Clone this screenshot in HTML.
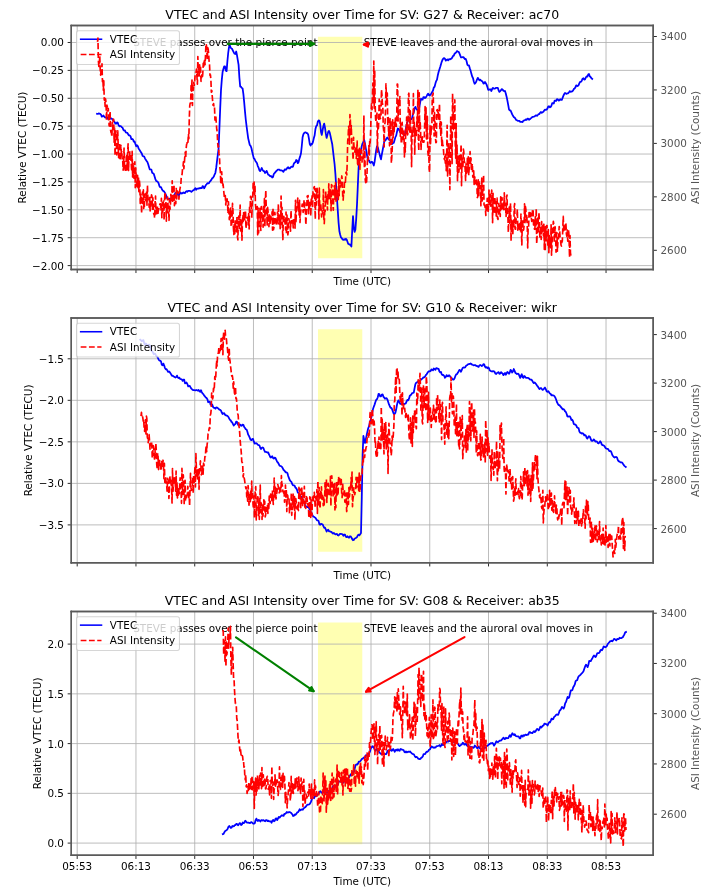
<!DOCTYPE html>
<html><head><meta charset="utf-8"><title>VTEC and ASI Intensity over Time</title>
<style>html,body{margin:0;padding:0;background:#fff;overflow:hidden;}svg{display:block;}</style>
</head><body>
<svg width="714" height="890" viewBox="0 0 685.44 854.4" version="1.1"> <defs> <style type="text/css">*{stroke-linejoin: round; stroke-linecap: butt}</style> </defs> <g id="figure_1"> <g id="patch_1"> <path d="M 0 854.4 L 685.44 854.4 L 685.44 0 L 0 0 z " style="fill: #ffffff"/> </g> <g id="axes_1"> <g id="patch_2"> <path d="M 68.44 258.62 L 627.07 258.62 L 627.07 24.57 L 68.44 24.57 z " style="fill: #ffffff"/> </g> <g id="FillBetweenPolyCollection_1"> <g clip-path="url(#p2609fcac6d)"> <path d="M 305.28 -606.41 L 305.28 -819.18 L 347.80 -819.18 L 347.80 -606.41 L 347.80 -606.41 L 305.28 -606.41 z" transform="translate(0.00 854.40)" style="fill: #ffff00; fill-opacity: 0.3"/> </g> </g> <g id="matplotlib.axis_1"> <g id="xtick_1"> <g id="line2d_1"> <path d="M 74.11 258.62 L 74.11 24.57 " clip-path="url(#p2609fcac6d)" style="fill: none; stroke: #b0b0b0; stroke-width: 0.8; stroke-linecap: square"/> </g> <g id="line2d_2"> <g> <path d="M 0 0 L 0 3.5" transform="translate(74.11 258.62)" style="stroke: #000000; stroke-width: 0.8"/> </g> </g> </g> <g id="xtick_2"> <g id="line2d_3"> <path d="M 130.52 258.62 L 130.52 24.57 " clip-path="url(#p2609fcac6d)" style="fill: none; stroke: #b0b0b0; stroke-width: 0.8; stroke-linecap: square"/> </g> <g id="line2d_4"> <g> <path d="M 0 0 L 0 3.5" transform="translate(130.52 258.62)" style="stroke: #000000; stroke-width: 0.8"/> </g> </g> </g> <g id="xtick_3"> <g id="line2d_5"> <path d="M 186.93 258.62 L 186.93 24.57 " clip-path="url(#p2609fcac6d)" style="fill: none; stroke: #b0b0b0; stroke-width: 0.8; stroke-linecap: square"/> </g> <g id="line2d_6"> <g> <path d="M 0 0 L 0 3.5" transform="translate(186.93 258.62)" style="stroke: #000000; stroke-width: 0.8"/> </g> </g> </g> <g id="xtick_4"> <g id="line2d_7"> <path d="M 243.34 258.62 L 243.34 24.57 " clip-path="url(#p2609fcac6d)" style="fill: none; stroke: #b0b0b0; stroke-width: 0.8; stroke-linecap: square"/> </g> <g id="line2d_8"> <g> <path d="M 0 0 L 0 3.5" transform="translate(243.34 258.62)" style="stroke: #000000; stroke-width: 0.8"/> </g> </g> </g> <g id="xtick_5"> <g id="line2d_9"> <path d="M 299.75 258.62 L 299.75 24.57 " clip-path="url(#p2609fcac6d)" style="fill: none; stroke: #b0b0b0; stroke-width: 0.8; stroke-linecap: square"/> </g> <g id="line2d_10"> <g> <path d="M 0 0 L 0 3.5" transform="translate(299.75 258.62)" style="stroke: #000000; stroke-width: 0.8"/> </g> </g> </g> <g id="xtick_6"> <g id="line2d_11"> <path d="M 356.16 258.62 L 356.16 24.57 " clip-path="url(#p2609fcac6d)" style="fill: none; stroke: #b0b0b0; stroke-width: 0.8; stroke-linecap: square"/> </g> <g id="line2d_12"> <g> <path d="M 0 0 L 0 3.5" transform="translate(356.16 258.62)" style="stroke: #000000; stroke-width: 0.8"/> </g> </g> </g> <g id="xtick_7"> <g id="line2d_13"> <path d="M 412.56 258.62 L 412.56 24.57 " clip-path="url(#p2609fcac6d)" style="fill: none; stroke: #b0b0b0; stroke-width: 0.8; stroke-linecap: square"/> </g> <g id="line2d_14"> <g> <path d="M 0 0 L 0 3.5" transform="translate(412.57 258.62)" style="stroke: #000000; stroke-width: 0.8"/> </g> </g> </g> <g id="xtick_8"> <g id="line2d_15"> <path d="M 468.97 258.62 L 468.97 24.57 " clip-path="url(#p2609fcac6d)" style="fill: none; stroke: #b0b0b0; stroke-width: 0.8; stroke-linecap: square"/> </g> <g id="line2d_16"> <g> <path d="M 0 0 L 0 3.5" transform="translate(468.98 258.62)" style="stroke: #000000; stroke-width: 0.8"/> </g> </g> </g> <g id="xtick_9"> <g id="line2d_17"> <path d="M 525.38 258.62 L 525.38 24.57 " clip-path="url(#p2609fcac6d)" style="fill: none; stroke: #b0b0b0; stroke-width: 0.8; stroke-linecap: square"/> </g> <g id="line2d_18"> <g> <path d="M 0 0 L 0 3.5" transform="translate(525.39 258.62)" style="stroke: #000000; stroke-width: 0.8"/> </g> </g> </g> <g id="xtick_10"> <g id="line2d_19"> <path d="M 581.79 258.62 L 581.79 24.57 " clip-path="url(#p2609fcac6d)" style="fill: none; stroke: #b0b0b0; stroke-width: 0.8; stroke-linecap: square"/> </g> <g id="line2d_20"> <g> <path d="M 0 0 L 0 3.5" transform="translate(581.80 258.62)" style="stroke: #000000; stroke-width: 0.8"/> </g> </g> </g> <g id="text_1"> <text style="font-size: 10px; font-family: 'DejaVu Sans', 'Liberation Sans', sans-serif; text-anchor: middle" x="347.76" y="273.72" transform="rotate(-0 347.76 273.72)">Time (UTC)</text> </g> </g> <g id="matplotlib.axis_2"> <g id="ytick_1"> <g id="line2d_21"> <path d="M 68.44 40.8 L 627.07 40.8 " clip-path="url(#p2609fcac6d)" style="fill: none; stroke: #b0b0b0; stroke-width: 0.8; stroke-linecap: square"/> </g> <g id="line2d_22"> <g> <path d="M 0 0 L -3.5 0" transform="translate(68.45 40.80)" style="stroke: #000000; stroke-width: 0.8"/> </g> </g> <g id="text_2"> <text style="font-size: 10px; font-family: 'DejaVu Sans', 'Liberation Sans', sans-serif; text-anchor: end" x="61.44" y="44.59" transform="rotate(-0 61.44 44.59)">0.00</text> </g> </g> <g id="ytick_2"> <g id="line2d_23"> <path d="M 68.44 67.57 L 627.07 67.57 " clip-path="url(#p2609fcac6d)" style="fill: none; stroke: #b0b0b0; stroke-width: 0.8; stroke-linecap: square"/> </g> <g id="line2d_24"> <g> <path d="M 0 0 L -3.5 0" transform="translate(68.45 67.57)" style="stroke: #000000; stroke-width: 0.8"/> </g> </g> <g id="text_3"> <text style="font-size: 10px; font-family: 'DejaVu Sans', 'Liberation Sans', sans-serif; text-anchor: end" x="61.44" y="71.37" transform="rotate(-0 61.44 71.37)">−0.25</text> </g> </g> <g id="ytick_3"> <g id="line2d_25"> <path d="M 68.44 94.34 L 627.07 94.34 " clip-path="url(#p2609fcac6d)" style="fill: none; stroke: #b0b0b0; stroke-width: 0.8; stroke-linecap: square"/> </g> <g id="line2d_26"> <g> <path d="M 0 0 L -3.5 0" transform="translate(68.45 94.34)" style="stroke: #000000; stroke-width: 0.8"/> </g> </g> <g id="text_4"> <text style="font-size: 10px; font-family: 'DejaVu Sans', 'Liberation Sans', sans-serif; text-anchor: end" x="61.44" y="98.14" transform="rotate(-0 61.44 98.14)">−0.50</text> </g> </g> <g id="ytick_4"> <g id="line2d_27"> <path d="M 68.44 121.11 L 627.07 121.11 " clip-path="url(#p2609fcac6d)" style="fill: none; stroke: #b0b0b0; stroke-width: 0.8; stroke-linecap: square"/> </g> <g id="line2d_28"> <g> <path d="M 0 0 L -3.5 0" transform="translate(68.45 121.12)" style="stroke: #000000; stroke-width: 0.8"/> </g> </g> <g id="text_5"> <text style="font-size: 10px; font-family: 'DejaVu Sans', 'Liberation Sans', sans-serif; text-anchor: end" x="61.44" y="124.91" transform="rotate(-0 61.44 124.91)">−0.75</text> </g> </g> <g id="ytick_5"> <g id="line2d_29"> <path d="M 68.44 147.88 L 627.07 147.88 " clip-path="url(#p2609fcac6d)" style="fill: none; stroke: #b0b0b0; stroke-width: 0.8; stroke-linecap: square"/> </g> <g id="line2d_30"> <g> <path d="M 0 0 L -3.5 0" transform="translate(68.45 147.89)" style="stroke: #000000; stroke-width: 0.8"/> </g> </g> <g id="text_6"> <text style="font-size: 10px; font-family: 'DejaVu Sans', 'Liberation Sans', sans-serif; text-anchor: end" x="61.44" y="151.68" transform="rotate(-0 61.44 151.68)">−1.00</text> </g> </g> <g id="ytick_6"> <g id="line2d_31"> <path d="M 68.44 174.66 L 627.07 174.66 " clip-path="url(#p2609fcac6d)" style="fill: none; stroke: #b0b0b0; stroke-width: 0.8; stroke-linecap: square"/> </g> <g id="line2d_32"> <g> <path d="M 0 0 L -3.5 0" transform="translate(68.45 174.66)" style="stroke: #000000; stroke-width: 0.8"/> </g> </g> <g id="text_7"> <text style="font-size: 10px; font-family: 'DejaVu Sans', 'Liberation Sans', sans-serif; text-anchor: end" x="61.44" y="178.45" transform="rotate(-0 61.44 178.45)">−1.25</text> </g> </g> <g id="ytick_7"> <g id="line2d_33"> <path d="M 68.44 201.43 L 627.07 201.43 " clip-path="url(#p2609fcac6d)" style="fill: none; stroke: #b0b0b0; stroke-width: 0.8; stroke-linecap: square"/> </g> <g id="line2d_34"> <g> <path d="M 0 0 L -3.5 0" transform="translate(68.45 201.43)" style="stroke: #000000; stroke-width: 0.8"/> </g> </g> <g id="text_8"> <text style="font-size: 10px; font-family: 'DejaVu Sans', 'Liberation Sans', sans-serif; text-anchor: end" x="61.44" y="205.23" transform="rotate(-0 61.44 205.23)">−1.50</text> </g> </g> <g id="ytick_8"> <g id="line2d_35"> <path d="M 68.44 228.20 L 627.07 228.20 " clip-path="url(#p2609fcac6d)" style="fill: none; stroke: #b0b0b0; stroke-width: 0.8; stroke-linecap: square"/> </g> <g id="line2d_36"> <g> <path d="M 0 0 L -3.5 0" transform="translate(68.45 228.20)" style="stroke: #000000; stroke-width: 0.8"/> </g> </g> <g id="text_9"> <text style="font-size: 10px; font-family: 'DejaVu Sans', 'Liberation Sans', sans-serif; text-anchor: end" x="61.44" y="232.00" transform="rotate(-0 61.44 232.00)">−1.75</text> </g> </g> <g id="ytick_9"> <g id="line2d_37"> <path d="M 68.44 254.97 L 627.07 254.97 " clip-path="url(#p2609fcac6d)" style="fill: none; stroke: #b0b0b0; stroke-width: 0.8; stroke-linecap: square"/> </g> <g id="line2d_38"> <g> <path d="M 0 0 L -3.5 0" transform="translate(68.45 254.98)" style="stroke: #000000; stroke-width: 0.8"/> </g> </g> <g id="text_10"> <text style="font-size: 10px; font-family: 'DejaVu Sans', 'Liberation Sans', sans-serif; text-anchor: end" x="61.44" y="258.77" transform="rotate(-0 61.44 258.77)">−2.00</text> </g> </g> <g id="text_11"> <text style="font-size: 10px; font-family: 'DejaVu Sans', 'Liberation Sans', sans-serif; text-anchor: middle" x="24.72" y="141.6" transform="rotate(-90 24.72 141.6)">Relative VTEC (TECU)</text> </g> </g> <g id="line2d_39"> <path d="M 93.12 109.25 L 93.88 109.38 L 94.65 108.89 L 95.42 109.08 L 96.19 109.33 L 96.96 109.99 L 97.72 111.89 L 98.49 111.83 L 99.26 110.81 L 100.03 111.79 L 100.8 112.77 L 101.56 112.82 L 102.33 112.43 L 103.10 112.82 L 103.87 114.40 L 104.64 113.99 L 105.40 113.69 L 106.17 113.80 L 106.94 113.71 L 107.71 114.24 L 108.48 115.43 L 109.24 116.30 L 110.01 117.13 L 110.78 118.58 L 111.55 118.75 L 112.32 117.46 L 113.08 117.88 L 113.85 120.21 L 114.62 121.31 L 115.39 120.96 L 116.16 121.21 L 116.92 122.24 L 117.69 122.67 L 118.46 124.71 L 119.23 125.37 L 120 125.28 L 120.76 127.09 L 121.53 127.43 L 122.30 127.65 L 123.07 129.02 L 123.84 130.04 L 124.60 130.03 L 125.37 130.94 L 126.14 133.59 L 126.91 133.38 L 127.68 133.94 L 128.44 135.97 L 129.21 135.85 L 129.98 138.29 L 130.75 140.46 L 131.52 139.49 L 132.28 140.23 L 133.05 142.65 L 133.82 143.68 L 134.59 144.96 L 135.36 146.25 L 136.12 147.44 L 136.89 149.67 L 137.66 149.97 L 138.43 150.34 L 139.2 151.97 L 139.96 153.45 L 140.73 154.48 L 141.50 155.53 L 142.27 157.73 L 143.04 160.26 L 143.80 162.69 L 144.57 162.71 L 145.34 162.92 L 146.11 165.79 L 146.88 166.38 L 147.64 166.92 L 148.41 169.50 L 149.18 171.96 L 149.95 173.79 L 150.72 174.01 L 151.48 174.58 L 152.25 175.92 L 153.02 178.50 L 153.79 179.67 L 154.56 179.69 L 155.32 181.38 L 156.09 182.66 L 156.86 183.44 L 157.63 183.93 L 158.4 185.21 L 159.16 186.82 L 159.93 188.78 L 160.70 190.68 L 161.47 191.03 L 162.24 191.21 L 163.00 190.58 L 163.77 190.43 L 164.54 190.24 L 165.31 189.51 L 166.08 188.22 L 166.84 187.64 L 167.61 186.96 L 168.38 185.03 L 169.15 185.66 L 169.92 186.13 L 170.68 186.14 L 171.45 187.97 L 172.22 186.98 L 172.99 184.74 L 173.76 185.26 L 174.52 185.84 L 175.29 185.39 L 176.06 184.73 L 176.83 185.14 L 177.6 185.45 L 178.36 184.09 L 179.13 183.50 L 179.90 184.04 L 180.67 183.19 L 181.44 183.20 L 182.20 183.22 L 182.97 183.58 L 183.74 184.17 L 184.51 183.45 L 185.28 182.79 L 186.04 182.53 L 186.81 181.45 L 187.58 180.65 L 188.35 182.13 L 189.12 181.19 L 189.88 181.13 L 190.65 181.00 L 191.42 180.56 L 192.19 180.78 L 192.96 180.40 L 193.72 180.68 L 194.49 178.72 L 195.26 179.09 L 196.03 180.72 L 196.8 179.41 L 197.56 177.64 L 198.33 176.96 L 199.10 175.87 L 199.87 176.11 L 200.64 175.79 L 201.40 174.40 L 202.17 173.62 L 202.94 172.62 L 203.71 171.08 L 204.48 170.56 L 205.24 169.53 L 206.01 167.53 L 206.78 165.85 L 207.55 161.25 L 208.32 154.76 L 209.08 148.59 L 209.85 142.56 L 210.62 123.45 L 211.39 104.01 L 212.16 86.52 L 212.92 76.66 L 213.69 69.19 L 214.46 66.33 L 215.23 63.72 L 216 63.64 L 216.76 67.78 L 217.53 68.32 L 218.30 58.77 L 219.07 50.88 L 219.84 45.20 L 220.60 43.36 L 221.37 45.69 L 222.14 46.40 L 222.91 47.05 L 223.68 48.73 L 224.44 50.39 L 225.21 51.49 L 225.98 51.82 L 226.75 49.44 L 227.52 53.12 L 228.28 57.82 L 229.05 62.31 L 229.82 74.61 L 230.59 83.19 L 231.36 83.25 L 232.12 84.37 L 232.89 84.89 L 233.66 90.32 L 234.43 98.36 L 235.2 107.09 L 235.96 114.97 L 236.73 121.24 L 237.50 127.20 L 238.27 132.80 L 239.04 136.05 L 239.80 139.20 L 240.57 140.03 L 241.34 142.03 L 242.11 145.68 L 242.88 148.89 L 243.64 152.00 L 244.41 152.66 L 245.18 154.60 L 245.95 155.60 L 246.72 156.69 L 247.48 159.41 L 248.25 160.96 L 249.02 163.31 L 249.79 164.31 L 250.56 162.85 L 251.32 161.28 L 252.09 163.20 L 252.86 164.24 L 253.63 164.27 L 254.4 166.09 L 255.16 165.49 L 255.93 163.99 L 256.70 165.79 L 257.47 167.76 L 258.24 167.97 L 259.00 168.84 L 259.77 169.30 L 260.54 169.12 L 261.31 170.46 L 262.08 169.97 L 262.84 167.05 L 263.61 166.15 L 264.38 165.31 L 265.15 164.29 L 265.92 163.66 L 266.68 162.94 L 267.45 162.93 L 268.22 162.78 L 268.99 163.59 L 269.76 163.66 L 270.52 163.61 L 271.29 164.11 L 272.06 164.98 L 272.83 163.54 L 273.6 162.50 L 274.36 163.13 L 275.13 162.25 L 275.90 161.07 L 276.67 160.50 L 277.44 161.73 L 278.20 161.63 L 278.97 160.67 L 279.74 160.02 L 280.51 160.24 L 281.28 159.91 L 282.04 157.13 L 282.81 156.16 L 283.58 155.81 L 284.35 153.57 L 285.12 154.03 L 285.88 156.64 L 286.65 155.52 L 287.42 152.31 L 288.19 150.13 L 288.96 147.10 L 289.72 140.17 L 290.49 131.75 L 291.26 128.81 L 292.03 127.64 L 292.8 127.06 L 293.56 127.10 L 294.33 127.82 L 295.10 127.86 L 295.87 129.19 L 296.64 133.46 L 297.40 138.31 L 298.17 139.75 L 298.94 138.14 L 299.71 138.23 L 300.48 136.19 L 301.24 132.81 L 302.01 130.14 L 302.78 124.11 L 303.55 121.14 L 304.32 120.43 L 305.08 116.86 L 305.85 115.50 L 306.62 115.96 L 307.39 119.25 L 308.16 126.65 L 308.92 129.55 L 309.69 125.06 L 310.46 120.95 L 311.23 118.66 L 312 122.57 L 312.76 128.10 L 313.53 132.45 L 314.30 129.75 L 315.07 126.61 L 315.84 125.67 L 316.60 127.60 L 317.37 131.09 L 318.14 134.81 L 318.91 138.19 L 319.68 144.65 L 320.44 151.18 L 321.21 157.67 L 321.98 166.85 L 322.75 179.17 L 323.52 190.83 L 324.28 202.22 L 325.05 213.92 L 325.82 222.00 L 326.59 225.29 L 327.36 227.89 L 328.12 228.66 L 328.89 229.90 L 329.66 230.27 L 330.43 229.69 L 331.2 230.27 L 331.96 229.28 L 332.73 229.81 L 333.50 231.89 L 334.27 234.08 L 335.04 234.52 L 335.80 234.67 L 336.57 235.56 L 337.34 236.70 L 338.11 221.59 L 338.88 207.39 L 339.64 218.69 L 340.41 222.60 L 341.18 220.45 L 341.95 210.08 L 342.72 196.43 L 343.48 179.07 L 344.25 161.31 L 345.02 152.59 L 345.79 148.64 L 346.56 143.68 L 347.32 140.08 L 348.09 137.61 L 348.86 136.37 L 349.63 134.31 L 350.4 137.70 L 351.16 142.28 L 351.93 146.43 L 352.70 151.24 L 353.47 153.85 L 354.24 154.01 L 355.00 155.98 L 355.77 156.30 L 356.54 155.41 L 357.31 155.47 L 358.08 156.76 L 358.84 158.91 L 359.61 155.39 L 360.38 149.61 L 361.15 144.24 L 361.92 140.40 L 362.68 141.40 L 363.45 144.45 L 364.22 147.24 L 364.99 150.43 L 365.76 152.92 L 366.52 148.43 L 367.29 144.50 L 368.06 140.21 L 368.83 136.14 L 369.6 134.93 L 370.36 134.18 L 371.13 132.58 L 371.90 132.02 L 372.67 133.23 L 373.44 134.03 L 374.20 133.79 L 374.97 136.36 L 375.74 138.36 L 376.51 138.23 L 377.28 137.15 L 378.04 137.07 L 378.81 134.36 L 379.58 131.64 L 380.35 130.23 L 381.12 126.54 L 381.88 123.37 L 382.65 123.60 L 383.42 125.26 L 384.19 127.11 L 384.96 127.54 L 385.72 127.74 L 386.49 127.74 L 387.26 128.42 L 388.03 129.92 L 388.8 128.20 L 389.56 123.75 L 390.33 119.96 L 391.10 116.79 L 391.87 112.77 L 392.64 113.10 L 393.40 113.51 L 394.17 113.78 L 394.94 114.40 L 395.71 112.61 L 396.48 109.58 L 397.24 107.76 L 398.01 103.80 L 398.78 102.59 L 399.55 104.27 L 400.32 105.45 L 401.08 105.46 L 401.85 105.07 L 402.62 102.62 L 403.39 98.25 L 404.16 94.64 L 404.92 95.36 L 405.69 95.67 L 406.46 93.19 L 407.23 93.15 L 408 94.20 L 408.76 93.55 L 409.53 92.28 L 410.30 90.78 L 411.07 89.89 L 411.84 91.43 L 412.60 91.69 L 413.37 90.60 L 414.14 89.78 L 414.91 88.32 L 415.68 86.88 L 416.44 84.02 L 417.21 83.33 L 417.98 80.25 L 418.75 77.82 L 419.52 76.41 L 420.28 72.37 L 421.05 69.09 L 421.82 66.78 L 422.59 64.38 L 423.36 61.61 L 424.12 59.09 L 424.89 57.25 L 425.66 56.21 L 426.43 55.74 L 427.2 56.60 L 427.96 58.27 L 428.73 57.46 L 429.50 57.06 L 430.27 57.85 L 431.04 56.78 L 431.80 57.03 L 432.57 56.57 L 433.34 56.24 L 434.11 55.30 L 434.88 53.78 L 435.64 53.38 L 436.41 51.54 L 437.18 50.93 L 437.95 50.18 L 438.72 49.02 L 439.48 49.51 L 440.25 49.73 L 441.02 51.06 L 441.79 53.20 L 442.56 55.18 L 443.32 55.03 L 444.09 54.86 L 444.86 54.81 L 445.63 55.79 L 446.4 56.73 L 447.16 56.58 L 447.93 58.79 L 448.70 62.28 L 449.47 62.81 L 450.24 62.83 L 451.00 65.49 L 451.77 67.80 L 452.54 70.89 L 453.31 73.42 L 454.08 74.95 L 454.84 78.17 L 455.61 80.43 L 456.38 79.71 L 457.15 78.53 L 457.92 76.38 L 458.68 74.77 L 459.45 75.82 L 460.22 77.02 L 460.99 76.50 L 461.76 77.27 L 462.52 77.78 L 463.29 78.41 L 464.06 80.17 L 464.83 80.00 L 465.6 78.73 L 466.36 79.91 L 467.13 81.22 L 467.90 83.58 L 468.67 86.20 L 469.44 86.20 L 470.20 85.85 L 470.97 85.88 L 471.74 87.37 L 472.51 85.31 L 473.28 84.33 L 474.04 85.12 L 474.81 85.08 L 475.58 84.79 L 476.35 84.28 L 477.12 84.38 L 477.88 84.30 L 478.65 86.65 L 479.42 88.26 L 480.19 87.44 L 480.96 86.59 L 481.72 85.57 L 482.49 85.90 L 483.26 87.16 L 484.03 87.37 L 484.8 87.33 L 485.56 89.72 L 486.33 92.83 L 487.10 96.65 L 487.87 100.66 L 488.64 105.05 L 489.40 106.04 L 490.17 106.05 L 490.94 107.90 L 491.71 109.80 L 492.48 111.14 L 493.24 112.42 L 494.01 112.83 L 494.78 113.89 L 495.55 115.14 L 496.32 115.51 L 497.08 116.07 L 497.85 116.02 L 498.62 116.11 L 499.39 116.95 L 500.16 116.97 L 500.92 117.04 L 501.69 117.16 L 502.46 115.83 L 503.23 115.63 L 504 115.39 L 504.76 114.68 L 505.53 115.14 L 506.30 113.90 L 507.07 113.91 L 507.84 115.06 L 508.60 114.50 L 509.37 113.72 L 510.14 113.18 L 510.91 112.41 L 511.68 112.09 L 512.44 111.98 L 513.21 111.83 L 513.98 111.00 L 514.75 110.70 L 515.52 111.17 L 516.28 110.40 L 517.05 109.50 L 517.82 109.46 L 518.59 108.12 L 519.36 107.55 L 520.12 108.33 L 520.89 107.70 L 521.66 107.29 L 522.43 106.14 L 523.2 105.18 L 523.96 105.41 L 524.73 105.23 L 525.50 104.30 L 526.27 102.33 L 527.04 101.91 L 527.80 103.08 L 528.57 102.76 L 529.34 101.48 L 530.11 99.09 L 530.88 98.92 L 531.64 99.41 L 532.41 96.61 L 533.18 96.52 L 533.95 96.78 L 534.72 95.20 L 535.48 95.33 L 536.25 96.63 L 537.02 96.37 L 537.79 95.16 L 538.56 95.83 L 539.32 95.96 L 540.09 93.93 L 540.86 91.92 L 541.63 90.37 L 542.4 89.29 L 543.16 89.81 L 543.93 90.16 L 544.70 89.55 L 545.47 89.57 L 546.24 88.58 L 547.00 87.48 L 547.77 88.10 L 548.54 88.06 L 549.31 87.72 L 550.08 87.02 L 550.84 85.51 L 551.61 84.91 L 552.38 83.87 L 553.15 81.94 L 553.92 82.32 L 554.68 82.62 L 555.45 81.67 L 556.22 79.79 L 556.99 78.56 L 557.76 78.54 L 558.52 77.43 L 559.29 75.54 L 560.06 75.13 L 560.83 76.50 L 561.6 76.22 L 562.36 74.44 L 563.13 73.40 L 563.90 73.55 L 564.67 71.59 L 565.44 71.00 L 566.20 73.24 L 566.97 73.93 L 567.74 75.08 L 568.51 75.76 " clip-path="url(#p2609fcac6d)" style="fill: none; stroke: #0000ff; stroke-width: 1.7; stroke-linecap: square"/> </g> <g id="patch_3"> <path d="M 68.44 258.62 L 68.44 24.57 " style="fill: none; stroke: #5a5a5a; stroke-width: 1.4; stroke-linejoin: miter; stroke-linecap: square"/> </g> <g id="patch_4"> <path d="M 627.07 258.62 L 627.07 24.57 " style="fill: none; stroke: #5a5a5a; stroke-width: 1.4; stroke-linejoin: miter; stroke-linecap: square"/> </g> <g id="patch_5"> <path d="M 68.44 258.62 L 627.07 258.62 " style="fill: none; stroke: #5a5a5a; stroke-width: 1.4; stroke-linejoin: miter; stroke-linecap: square"/> </g> <g id="patch_6"> <path d="M 68.44 24.57 L 627.07 24.57 " style="fill: none; stroke: #5a5a5a; stroke-width: 1.4; stroke-linejoin: miter; stroke-linecap: square"/> </g> <g id="text_12"> <text style="font-size: 10px; font-family: 'DejaVu Sans', 'Liberation Sans', sans-serif; text-anchor: start" x="127.87" y="44.42" transform="rotate(-0 127.87 44.42)">STEVE passes over the pierce point</text> </g> <g id="text_13"> <text style="font-size: 10px; font-family: 'DejaVu Sans', 'Liberation Sans', sans-serif; text-anchor: start" x="349.15" y="44.42" transform="rotate(-0 349.15 44.42)">STEVE leaves and the auroral oval moves in</text> </g> <g id="patch_7"> <path d="M 218.59 42.14 Q 261.21 42.14 301.60 42.14 " style="fill: none; stroke: #008000; stroke-width: 2; stroke-linecap: round"/> <path d="M 297.60 40.14 L 301.60 42.14 L 297.60 44.14 z " style="fill: #008000; stroke: #008000; stroke-width: 2; stroke-linecap: round"/> </g> <g id="patch_8"> <path d="M 353.76 42.81 Q 350.4 42.81 349.27 42.81 " style="fill: none; stroke: #ff0000; stroke-width: 2; stroke-linecap: round"/> <path d="M 353.27 44.81 L 349.27 42.81 L 353.27 40.81 z " style="fill: #ff0000; stroke: #ff0000; stroke-width: 2; stroke-linecap: round"/> </g> <g id="text_14"> <text style="font-size: 12px; font-family: 'DejaVu Sans', 'Liberation Sans', sans-serif; text-anchor: middle" x="347.76" y="18.57" transform="rotate(-0 347.76 18.57)">VTEC and ASI Intensity over Time for SV: G27 &amp; Receiver: ac70</text> </g> <g id="legend_1"> <g id="patch_9"> <path d="M 75.44 61.93 L 170.29 61.93 Q 172.29 61.93 172.29 59.93 L 172.29 31.57 Q 172.29 29.57 170.29 29.57 L 75.44 29.57 Q 73.44 29.57 73.44 31.57 L 73.44 59.93 Q 73.44 61.93 75.44 61.93 z " style="fill: #ffffff; opacity: 0.8; stroke: #cccccc; stroke-linejoin: miter"/> </g> <g id="line2d_40"> <path d="M 77.44 37.67 L 87.44 37.67 L 97.44 37.67 " style="fill: none; stroke: #0000ff; stroke-width: 1.5; stroke-linecap: square"/> </g> <g id="text_15"> <text style="font-size: 10px; font-family: 'DejaVu Sans', 'Liberation Sans', sans-serif; text-anchor: start" x="105.44" y="41.17" transform="rotate(-0 105.44 41.17)">VTEC</text> </g> <g id="line2d_41"> <path d="M 77.44 52.35 L 87.44 52.35 L 97.44 52.35 " style="fill: none; stroke-dasharray: 5.55,2.4; stroke-dashoffset: 0; stroke: #ff0000; stroke-width: 1.5"/> </g> <g id="text_16"> <text style="font-size: 10px; font-family: 'DejaVu Sans', 'Liberation Sans', sans-serif; text-anchor: start" x="105.44" y="55.85" transform="rotate(-0 105.44 55.85)">ASI Intensity</text> </g> </g> </g> <g id="axes_2"> <g id="matplotlib.axis_3"> <g id="ytick_10"> <g id="line2d_42"> <g> <path d="M 0 0 L 3.5 0" transform="translate(627.07 35.04)" style="stroke: #000000; stroke-width: 0.8"/> </g> </g> <g id="text_17"> <text style="font-size: 10px; font-family: 'DejaVu Sans', 'Liberation Sans', sans-serif; text-anchor: start; fill: #555555" x="634.07" y="38.83" transform="rotate(-0 634.07 38.83)">3400</text> </g> </g> <g id="ytick_11"> <g id="line2d_43"> <g> <path d="M 0 0 L 3.5 0" transform="translate(627.07 86.35)" style="stroke: #000000; stroke-width: 0.8"/> </g> </g> <g id="text_18"> <text style="font-size: 10px; font-family: 'DejaVu Sans', 'Liberation Sans', sans-serif; text-anchor: start; fill: #555555" x="634.07" y="90.15" transform="rotate(-0 634.07 90.15)">3200</text> </g> </g> <g id="ytick_12"> <g id="line2d_44"> <g> <path d="M 0 0 L 3.5 0" transform="translate(627.07 137.66)" style="stroke: #000000; stroke-width: 0.8"/> </g> </g> <g id="text_19"> <text style="font-size: 10px; font-family: 'DejaVu Sans', 'Liberation Sans', sans-serif; text-anchor: start; fill: #555555" x="634.07" y="141.46" transform="rotate(-0 634.07 141.46)">3000</text> </g> </g> <g id="ytick_13"> <g id="line2d_45"> <g> <path d="M 0 0 L 3.5 0" transform="translate(627.07 188.98)" style="stroke: #000000; stroke-width: 0.8"/> </g> </g> <g id="text_20"> <text style="font-size: 10px; font-family: 'DejaVu Sans', 'Liberation Sans', sans-serif; text-anchor: start; fill: #555555" x="634.07" y="192.77" transform="rotate(-0 634.07 192.77)">2800</text> </g> </g> <g id="ytick_14"> <g id="line2d_46"> <g> <path d="M 0 0 L 3.5 0" transform="translate(627.07 240.29)" style="stroke: #000000; stroke-width: 0.8"/> </g> </g> <g id="text_21"> <text style="font-size: 10px; font-family: 'DejaVu Sans', 'Liberation Sans', sans-serif; text-anchor: start; fill: #555555" x="634.07" y="244.08" transform="rotate(-0 634.07 244.08)">2600</text> </g> </g> <g id="text_22"> <text style="font-size: 10px; font-family: 'DejaVu Sans', 'Liberation Sans', sans-serif; text-anchor: middle; fill: #555555" x="671.12" y="141.6" transform="rotate(-90 671.12 141.6)">ASI Intensity (Counts)</text> </g> </g> <g id="line2d_47"> <path d="M 93.6 40.20 L 94.03 36.55 L 94.46 58.58 L 94.89 63.73 L 95.32 63.68 L 95.76 53.37 L 96.19 66.28 L 96.62 72.07 L 97.05 67.2 L 97.48 71.42 L 97.92 61.24 L 98.35 78.44 L 98.78 75.48 L 99.21 86.56 L 99.64 77.64 L 100.08 96.09 L 100.51 94.05 L 100.94 102.25 L 101.37 95.14 L 101.80 98.78 L 102.24 115.17 L 102.67 100.89 L 103.10 102.93 L 103.53 106.54 L 103.96 104.29 L 104.4 116.68 L 104.83 120.90 L 105.26 110.80 L 105.69 107.14 L 106.12 124.75 L 106.56 127.11 L 106.99 127.64 L 107.42 131.48 L 107.85 117.62 L 108.28 123.92 L 108.72 114.25 L 109.15 114.64 L 109.58 136.66 L 110.01 122.90 L 110.44 149.52 L 110.88 130.98 L 111.31 125.59 L 111.74 139.02 L 112.17 148.75 L 112.60 138.64 L 113.04 125.50 L 113.47 140.85 L 113.90 151.31 L 114.33 137.38 L 114.76 137.02 L 115.2 154.07 L 115.63 148.37 L 116.06 139.42 L 116.49 146.78 L 116.92 144.77 L 117.36 154.53 L 117.79 153.87 L 118.22 163.30 L 118.65 160.38 L 119.08 142.27 L 119.52 158.90 L 119.95 163.16 L 120.38 159.62 L 120.81 164.23 L 121.24 151.25 L 121.68 147.87 L 122.11 162.95 L 122.54 146.80 L 122.97 138.07 L 123.40 163.72 L 123.84 150.02 L 124.27 153.83 L 124.70 145.87 L 125.13 147.40 L 125.56 149.92 L 126 157.53 L 126.43 164.64 L 126.86 145.37 L 127.29 169.96 L 127.72 156.12 L 128.16 157.67 L 128.59 171.10 L 129.02 165.79 L 129.45 155.39 L 129.88 180.20 L 130.32 161.23 L 130.75 169.90 L 131.18 170.53 L 131.61 180.30 L 132.04 168.37 L 132.48 180.15 L 132.91 169.36 L 133.34 184.09 L 133.77 172.65 L 134.20 177.31 L 134.64 195.42 L 135.07 186.30 L 135.50 186.95 L 135.93 204.93 L 136.36 192.31 L 136.8 184.37 L 137.23 196.97 L 137.66 182.31 L 138.09 200.42 L 138.52 200.80 L 138.96 186.66 L 139.39 186.13 L 139.82 192.45 L 140.25 191.49 L 140.68 184.36 L 141.12 196.95 L 141.55 177.79 L 141.98 190.95 L 142.41 192.01 L 142.84 193.83 L 143.28 199.12 L 143.71 187.74 L 144.14 202.42 L 144.57 196.50 L 145.00 192.84 L 145.44 187.07 L 145.87 188.47 L 146.30 200.82 L 146.73 189.82 L 147.16 197.85 L 147.6 205.67 L 148.03 205.23 L 148.46 209.43 L 148.89 194.41 L 149.32 188.14 L 149.76 205.37 L 150.19 199.67 L 150.62 206.20 L 151.05 196.90 L 151.48 206.07 L 151.92 202.63 L 152.35 200.88 L 152.78 198.53 L 153.21 197.22 L 153.64 195.68 L 154.08 195.69 L 154.51 202.19 L 154.94 190.36 L 155.37 209.07 L 155.80 194.36 L 156.24 203.36 L 156.67 194.54 L 157.10 193.10 L 157.53 211.38 L 157.96 192.36 L 158.4 184.74 L 158.83 189.18 L 159.26 192.53 L 159.69 212.43 L 160.12 197.60 L 160.56 203.83 L 160.99 189.31 L 161.42 200.23 L 161.85 202.87 L 162.28 211.53 L 162.72 191.70 L 163.15 201.11 L 163.58 197.87 L 164.01 186.63 L 164.44 193.28 L 164.88 190.35 L 165.31 173.50 L 165.74 194.68 L 166.17 193.18 L 166.60 184.81 L 167.04 177.16 L 167.47 197.52 L 167.90 187.73 L 168.33 192.88 L 168.76 195.53 L 169.2 180.92 L 169.63 190.96 L 170.06 183.16 L 170.49 184.60 L 170.92 184.43 L 171.36 184.84 L 171.79 191.31 L 172.22 184.31 L 172.65 181.99 L 173.08 179.57 L 173.52 178.76 L 173.95 170.83 L 174.38 168.87 L 174.81 167.14 L 175.24 161.92 L 175.68 160.30 L 176.11 155.33 L 176.54 161.88 L 176.97 156.50 L 177.40 150.56 L 177.84 146.11 L 178.27 151.84 L 178.70 142.52 L 179.13 138.57 L 179.56 137.53 L 180 135.04 L 180.43 136.53 L 180.86 128.67 L 181.29 133.17 L 181.72 113.63 L 182.16 101.39 L 182.59 98.93 L 183.02 99.06 L 183.45 82.18 L 183.88 87.62 L 184.32 76.8 L 184.75 101.24 L 185.18 81.47 L 185.61 86.54 L 186.04 79.07 L 186.48 81.96 L 186.91 77.67 L 187.34 72.01 L 187.77 69.50 L 188.20 69.62 L 188.64 66.42 L 189.07 73.70 L 189.50 80.87 L 189.93 54.25 L 190.36 68.03 L 190.8 65.71 L 191.23 73.00 L 191.66 62.34 L 192.09 69.70 L 192.52 63.50 L 192.96 78.09 L 193.39 73.80 L 193.82 71.81 L 194.25 75.20 L 194.68 70.59 L 195.12 60.74 L 195.55 64.44 L 195.98 59.85 L 196.41 56.42 L 196.84 62.12 L 197.28 53.32 L 197.71 42.08 L 198.14 43.2 L 198.57 50.03 L 199.00 57.15 L 199.44 45.75 L 199.87 47.35 L 200.30 51.69 L 200.73 58.65 L 201.16 62.41 L 201.6 72.50 L 202.03 71.93 L 202.46 76.48 L 202.89 88.60 L 203.32 86.99 L 203.76 92.22 L 204.19 97.65 L 204.62 101.06 L 205.05 99.44 L 205.48 103.35 L 205.92 102.62 L 206.35 115.26 L 206.78 114.42 L 207.21 111.18 L 207.64 118.46 L 208.08 124.27 L 208.51 126.61 L 208.94 136.91 L 209.37 141.19 L 209.80 140.13 L 210.24 147.76 L 210.67 149.40 L 211.10 161.09 L 211.53 164.32 L 211.96 176.61 L 212.4 169.98 L 212.83 164.87 L 213.26 173.00 L 213.69 178.77 L 214.12 176.60 L 214.56 180.86 L 214.99 185.52 L 215.42 190.03 L 215.85 189.48 L 216.28 187.66 L 216.72 196.81 L 217.15 191.86 L 217.58 193.63 L 218.01 190.82 L 218.44 195.49 L 218.88 204.80 L 219.31 193.80 L 219.74 204.30 L 220.17 210.90 L 220.60 204.83 L 221.04 209.31 L 221.47 199.69 L 221.90 217.84 L 222.33 216.64 L 222.76 210.28 L 223.2 195.31 L 223.63 201.56 L 224.06 218.26 L 224.49 225.16 L 224.92 215.48 L 225.36 224.27 L 225.79 211.20 L 226.22 215.69 L 226.65 218.24 L 227.08 222.34 L 227.52 207.46 L 227.95 227.22 L 228.38 230.33 L 228.81 209.90 L 229.24 207.37 L 229.68 220.14 L 230.11 211.33 L 230.54 196.97 L 230.97 221.79 L 231.40 216.07 L 231.84 210.51 L 232.27 230.64 L 232.70 214.22 L 233.13 206.32 L 233.56 212.28 L 234 202.24 L 234.43 203.53 L 234.86 211.76 L 235.29 203.43 L 235.72 203.49 L 236.16 219.50 L 236.59 212.46 L 237.02 211.43 L 237.45 208.94 L 237.88 208.46 L 238.32 216.01 L 238.75 204.94 L 239.18 219.75 L 239.61 198.32 L 240.04 203.95 L 240.48 188.37 L 240.91 188.79 L 241.34 191.64 L 241.77 209.18 L 242.20 194.13 L 242.64 188.47 L 243.07 174.62 L 243.50 185.39 L 243.93 174.75 L 244.36 188.32 L 244.8 178.95 L 245.23 196.27 L 245.66 200.54 L 246.09 202.53 L 246.52 200.52 L 246.96 198.32 L 247.39 225.44 L 247.82 199.86 L 248.25 223.56 L 248.68 215.61 L 249.12 207.25 L 249.55 199.97 L 249.98 216.78 L 250.41 221.16 L 250.84 198.25 L 251.28 202.21 L 251.71 212.09 L 252.14 205.37 L 252.57 218.18 L 253.00 196.78 L 253.44 205.46 L 253.87 190.63 L 254.30 217.64 L 254.73 194.53 L 255.16 182.44 L 255.6 199.42 L 256.03 199.54 L 256.46 216.75 L 256.89 199.07 L 257.32 202.55 L 257.76 208.50 L 258.19 217.71 L 258.62 205.40 L 259.05 215.52 L 259.48 212.32 L 259.92 206.61 L 260.35 210.44 L 260.78 210.64 L 261.21 203.34 L 261.64 220.93 L 262.08 199.76 L 262.51 220.53 L 262.94 218.55 L 263.37 209.71 L 263.80 203.86 L 264.24 207.85 L 264.67 213.12 L 265.10 214.90 L 265.53 210.81 L 265.96 216.30 L 266.4 203.56 L 266.83 210.06 L 267.26 195.60 L 267.69 214.99 L 268.12 210.62 L 268.56 206.55 L 268.99 219.52 L 269.42 215.99 L 269.85 188.25 L 270.28 210.96 L 270.72 199.02 L 271.15 218.91 L 271.58 230.01 L 272.01 205.87 L 272.44 210.32 L 272.88 207.56 L 273.31 212.34 L 273.74 214.96 L 274.17 220.68 L 274.60 203.57 L 275.04 225.10 L 275.47 206.55 L 275.90 217.41 L 276.33 225.47 L 276.76 222.57 L 277.2 209.81 L 277.63 211.60 L 278.06 212.78 L 278.49 214.43 L 278.92 221.98 L 279.36 202.02 L 279.79 213.98 L 280.22 213.97 L 280.65 212.78 L 281.08 211.53 L 281.52 218.83 L 281.95 210.97 L 282.38 213.33 L 282.81 210.86 L 283.24 219.14 L 283.68 192.32 L 284.11 213.97 L 284.54 202.51 L 284.97 201.79 L 285.40 196.60 L 285.84 190.12 L 286.27 200.16 L 286.70 197.97 L 287.13 206.41 L 287.56 192.34 L 288 213.66 L 288.43 205.09 L 288.86 201.74 L 289.29 198.87 L 289.72 198.56 L 290.16 195.85 L 290.59 200.13 L 291.02 203.93 L 291.45 201.91 L 291.88 191.63 L 292.32 200.08 L 292.75 194.83 L 293.18 202.84 L 293.61 215.98 L 294.04 206.24 L 294.48 198.53 L 294.91 188.34 L 295.34 189.78 L 295.77 187.82 L 296.20 205.22 L 296.64 194.20 L 297.07 199.79 L 297.50 194.30 L 297.93 198.75 L 298.36 207.43 L 298.8 191.22 L 299.23 192.68 L 299.66 187.94 L 300.09 199.70 L 300.52 183.88 L 300.96 182.50 L 301.39 179.90 L 301.82 179.15 L 302.25 193.84 L 302.68 210.42 L 303.12 181.25 L 303.55 196.90 L 303.98 191.37 L 304.41 180.85 L 304.84 188.31 L 305.28 189.73 L 305.71 187.36 L 306.14 210.15 L 306.57 180.63 L 307.00 200.82 L 307.44 201.65 L 307.87 195.27 L 308.30 201.92 L 308.73 208.17 L 309.16 202.18 L 309.6 203.81 L 310.03 205.17 L 310.46 181.94 L 310.89 209.25 L 311.32 214.63 L 311.76 203.19 L 312.19 202.82 L 312.62 182.79 L 313.05 193.10 L 313.48 187.41 L 313.92 189.17 L 314.35 201.53 L 314.78 186.91 L 315.21 191.68 L 315.64 176.55 L 316.08 189.55 L 316.51 190.51 L 316.94 183.26 L 317.37 182.31 L 317.80 202.25 L 318.24 177.22 L 318.67 178.05 L 319.10 179.58 L 319.53 195.07 L 319.96 201.74 L 320.4 187.28 L 320.83 178.51 L 321.26 180.26 L 321.69 191.31 L 322.12 175.39 L 322.56 193.07 L 322.99 192.28 L 323.42 181.56 L 323.85 185.54 L 324.28 185.90 L 324.72 191.59 L 325.15 171.36 L 325.58 187.95 L 326.01 175.86 L 326.44 172.85 L 326.88 179.52 L 327.31 177.52 L 327.74 172.53 L 328.17 168.92 L 328.60 173.57 L 329.04 189.41 L 329.47 192.08 L 329.90 182.83 L 330.33 185.17 L 330.76 173.35 L 331.2 174.57 L 331.63 174.77 L 332.06 165.73 L 332.49 165.12 L 332.92 167.93 L 333.36 155.21 L 333.79 135.48 L 334.22 131.15 L 334.65 121.26 L 335.08 123.68 L 335.52 138.43 L 335.95 109.92 L 336.38 116.28 L 336.81 128.80 L 337.24 120.60 L 337.68 137.13 L 338.11 143.01 L 338.54 141.64 L 338.97 153.54 L 339.40 131.75 L 339.84 141.36 L 340.27 141.28 L 340.70 146.03 L 341.13 141.50 L 341.56 141.10 L 342 152.17 L 342.43 147.27 L 342.86 135.34 L 343.29 159.50 L 343.72 157.24 L 344.16 142.56 L 344.59 157.80 L 345.02 142.45 L 345.45 163.20 L 345.88 149.53 L 346.32 143.53 L 346.75 148.54 L 347.18 144.61 L 347.61 155.62 L 348.04 155.32 L 348.48 153.46 L 348.91 146.40 L 349.34 110.73 L 349.77 161.15 L 350.20 136.14 L 350.64 172.73 L 351.07 175.33 L 351.50 168.31 L 351.93 174.72 L 352.36 165.78 L 352.8 151.20 L 353.23 150.12 L 353.66 153.43 L 354.09 139.66 L 354.52 148.76 L 354.96 134.15 L 355.39 137.24 L 355.82 126.38 L 356.25 107.48 L 356.68 99.63 L 357.12 105.24 L 357.55 91.09 L 357.98 79.70 L 358.41 98.45 L 358.84 58.56 L 359.28 104.00 L 359.71 67.23 L 360.14 99.98 L 360.57 114.11 L 361.00 117.21 L 361.44 108.39 L 361.87 107.68 L 362.30 146.17 L 362.73 121.50 L 363.16 125.06 L 363.6 116.73 L 364.03 95.12 L 364.46 101.45 L 364.89 113.94 L 365.32 113.74 L 365.76 111.94 L 366.19 85.90 L 366.62 90.24 L 367.05 98.54 L 367.48 100.94 L 367.92 121.66 L 368.35 125.47 L 368.78 141.02 L 369.21 119.35 L 369.64 118.01 L 370.08 106.39 L 370.51 80.43 L 370.94 91.72 L 371.37 100.40 L 371.80 89.28 L 372.24 120.42 L 372.67 111.83 L 373.10 130.38 L 373.53 121.23 L 373.96 139.97 L 374.4 113.80 L 374.83 129.27 L 375.26 115.84 L 375.69 156.66 L 376.12 151.03 L 376.56 142.33 L 376.99 115.06 L 377.42 132.30 L 377.85 125.60 L 378.28 128.41 L 378.72 117.48 L 379.15 121.41 L 379.58 113.47 L 380.01 117.33 L 380.44 121.37 L 380.88 111.55 L 381.31 80.64 L 381.74 80.85 L 382.17 116.23 L 382.60 97.02 L 383.04 95.83 L 383.47 97.20 L 383.90 92.67 L 384.33 130.81 L 384.76 118.54 L 385.2 137.91 L 385.63 137.78 L 386.06 117.36 L 386.49 127.06 L 386.92 133.81 L 387.36 130.30 L 387.79 125.83 L 388.22 150.73 L 388.65 138.07 L 389.08 146.02 L 389.52 123.75 L 389.95 127.84 L 390.38 112.40 L 390.81 120.93 L 391.24 129.44 L 391.68 128.01 L 392.11 90.81 L 392.54 89.46 L 392.97 111.95 L 393.40 127.38 L 393.84 106.32 L 394.27 120.00 L 394.70 126.70 L 395.13 160.02 L 395.56 124.14 L 396 130.96 L 396.43 130.64 L 396.86 89.95 L 397.29 127.59 L 397.72 117.34 L 398.16 148.09 L 398.59 127.34 L 399.02 122.09 L 399.45 131.65 L 399.88 125.76 L 400.32 112.23 L 400.75 119.55 L 401.18 86.07 L 401.61 132.92 L 402.04 144.68 L 402.48 89.08 L 402.91 125.15 L 403.34 116.20 L 403.77 126.44 L 404.20 143.55 L 404.64 132.52 L 405.07 137.10 L 405.50 131.30 L 405.93 136.44 L 406.36 135.18 L 406.8 136.53 L 407.23 134.70 L 407.66 120.76 L 408.09 102.26 L 408.52 121.97 L 408.96 103.63 L 409.39 133.26 L 409.82 133.48 L 410.25 111.64 L 410.68 145.66 L 411.12 149.44 L 411.55 139.85 L 411.98 162.26 L 412.41 165.36 L 412.84 120.73 L 413.28 138.01 L 413.71 128.64 L 414.14 121.21 L 414.57 123.90 L 415.00 91.35 L 415.44 91.68 L 415.87 89.32 L 416.30 109.66 L 416.73 130.61 L 417.16 108.25 L 417.6 115.98 L 418.03 132.45 L 418.46 136.91 L 418.89 136.56 L 419.32 106.43 L 419.76 105.25 L 420.19 107.45 L 420.62 105.20 L 421.05 115.46 L 421.48 110.04 L 421.92 99.55 L 422.35 124.30 L 422.78 114.87 L 423.21 131.20 L 423.64 117.41 L 424.08 139.62 L 424.51 133.03 L 424.94 138.80 L 425.37 139.76 L 425.80 144.89 L 426.24 151.08 L 426.67 153.18 L 427.10 150.16 L 427.53 156.66 L 427.96 148.25 L 428.4 163.87 L 428.83 147.71 L 429.26 120.37 L 429.69 168.90 L 430.12 153.00 L 430.56 136.26 L 430.99 150.42 L 431.42 141.24 L 431.85 182.04 L 432.28 153.98 L 432.72 111.39 L 433.15 134.40 L 433.58 126.17 L 434.01 157.07 L 434.44 90.03 L 434.88 103.10 L 435.31 124.38 L 435.74 116.65 L 436.17 110.18 L 436.60 95.92 L 437.04 137.97 L 437.47 151.85 L 437.90 118.01 L 438.33 156.84 L 438.76 139.29 L 439.2 173.54 L 439.63 154.75 L 440.06 149.89 L 440.49 165.25 L 440.92 160.26 L 441.36 149.33 L 441.79 163.69 L 442.22 151.31 L 442.65 138.43 L 443.08 178.33 L 443.52 154.13 L 443.95 151.88 L 444.38 161.82 L 444.81 143.04 L 445.24 145.62 L 445.68 154.99 L 446.11 155.70 L 446.54 162.47 L 446.97 173.32 L 447.40 157.40 L 447.84 167.07 L 448.27 167.80 L 448.70 150.74 L 449.13 162.62 L 449.56 150.60 L 450 168.36 L 450.43 161.77 L 450.86 157.20 L 451.29 145.62 L 451.72 157.29 L 452.16 151.77 L 452.59 164.22 L 453.02 159.91 L 453.45 157.13 L 453.88 169.94 L 454.32 170.42 L 454.75 164.08 L 455.18 177.01 L 455.61 169.62 L 456.04 171.36 L 456.48 176.24 L 456.91 171.11 L 457.34 173.85 L 457.77 175.81 L 458.20 189.65 L 458.64 188.89 L 459.07 172.68 L 459.50 188.65 L 459.93 173.72 L 460.36 177.65 L 460.8 182.65 L 461.23 178.45 L 461.66 197.59 L 462.09 180.72 L 462.52 171.07 L 462.96 192.96 L 463.39 181.93 L 463.82 184.66 L 464.25 167.74 L 464.68 196.84 L 465.12 196.96 L 465.55 198.05 L 465.98 200.54 L 466.41 206.92 L 466.84 195.18 L 467.28 203.27 L 467.71 190.49 L 468.14 192.97 L 468.57 203.81 L 469.00 197.71 L 469.44 182.48 L 469.87 196.48 L 470.30 191.73 L 470.73 186.57 L 471.16 197.92 L 471.6 191.61 L 472.03 182.53 L 472.46 187.58 L 472.89 213.86 L 473.32 185.56 L 473.76 201.30 L 474.19 205.00 L 474.62 205.42 L 475.05 188.88 L 475.48 197.06 L 475.92 201.34 L 476.35 207.41 L 476.78 194.71 L 477.21 190.25 L 477.64 209.71 L 478.08 210.68 L 478.51 204.11 L 478.94 195.30 L 479.37 204.25 L 479.80 201.45 L 480.24 207.75 L 480.67 189.03 L 481.10 201.01 L 481.53 198.42 L 481.96 189.80 L 482.4 201.15 L 482.83 199.13 L 483.26 194.74 L 483.69 201.34 L 484.12 185.01 L 484.56 196.79 L 484.99 201.11 L 485.42 200.18 L 485.85 207.84 L 486.28 188.81 L 486.72 187.31 L 487.15 203.98 L 487.58 207.21 L 488.01 223.08 L 488.44 210.99 L 488.88 198.83 L 489.31 214.31 L 489.74 200.35 L 490.17 195.11 L 490.60 231.30 L 491.04 211.37 L 491.47 214.82 L 491.90 213.44 L 492.33 224.30 L 492.76 210.74 L 493.2 218.75 L 493.63 198.82 L 494.06 195.37 L 494.49 219.85 L 494.92 219.99 L 495.36 211.28 L 495.79 208.62 L 496.22 208.12 L 496.65 200.90 L 497.08 221.06 L 497.52 214.28 L 497.95 214.19 L 498.38 214.49 L 498.81 221.88 L 499.24 218.49 L 499.68 221.70 L 500.11 205.60 L 500.54 220.61 L 500.97 235.15 L 501.40 210.78 L 501.84 213.28 L 502.27 221.14 L 502.70 220.55 L 503.13 216.51 L 503.56 195.76 L 504 213.74 L 504.43 198.37 L 504.86 201.29 L 505.29 213.48 L 505.72 206.22 L 506.16 216.53 L 506.59 238.03 L 507.02 217.58 L 507.45 217.87 L 507.88 204.19 L 508.32 207.18 L 508.75 204.08 L 509.18 209.35 L 509.61 204.71 L 510.04 208.70 L 510.48 212.61 L 510.91 205.18 L 511.34 200.88 L 511.77 200.68 L 512.20 216.04 L 512.64 211.86 L 513.07 220.04 L 513.50 220.12 L 513.93 208.18 L 514.36 217.72 L 514.8 200.14 L 515.23 234.04 L 515.66 225.81 L 516.09 214.77 L 516.52 207.71 L 516.96 222.35 L 517.39 203.47 L 517.82 213.70 L 518.25 227.56 L 518.68 221.93 L 519.12 217.15 L 519.55 229.86 L 519.98 212.64 L 520.41 224.26 L 520.84 217.74 L 521.28 215.01 L 521.71 226.58 L 522.14 214.40 L 522.57 239.55 L 523.00 218.74 L 523.44 241.33 L 523.87 215.66 L 524.30 231.05 L 524.73 216.60 L 525.16 216.48 L 525.6 230.50 L 526.03 236.11 L 526.46 220.50 L 526.89 242.55 L 527.32 226.08 L 527.76 234.43 L 528.19 236.52 L 528.62 237.84 L 529.05 215.77 L 529.48 244.98 L 529.92 234.60 L 530.35 224.94 L 530.78 218.95 L 531.21 212.56 L 531.64 215.35 L 532.08 232.34 L 532.51 224.53 L 532.94 217.64 L 533.37 223.23 L 533.80 242.12 L 534.24 225.47 L 534.67 223.53 L 535.10 241.23 L 535.53 233.80 L 535.96 230.66 L 536.4 225.44 L 536.83 217.49 L 537.26 221.37 L 537.69 227.85 L 538.12 230.22 L 538.56 235.08 L 538.99 236.20 L 539.42 232.34 L 539.85 231.23 L 540.28 219.08 L 540.72 207.73 L 541.15 221.53 L 541.58 217.00 L 542.01 219.27 L 542.44 222.39 L 542.88 213.66 L 543.31 215.26 L 543.74 224.60 L 544.17 227.00 L 544.60 220.97 L 545.04 231.58 L 545.47 226.24 L 545.90 220.29 L 546.33 230.33 L 546.76 247.05 L 547.2 226.09 L 547.63 242.70 L 548.06 245.31 " clip-path="url(#pdae10b893c)" style="fill: none; stroke-dasharray: 5.92,2.56; stroke-dashoffset: 0; stroke: #ff0000; stroke-width: 1.6"/> </g> <g id="patch_10"> <path d="M 68.44 258.62 L 68.44 24.57 " style="fill: none; stroke: #5a5a5a; stroke-width: 1.4; stroke-linejoin: miter; stroke-linecap: square"/> </g> <g id="patch_11"> <path d="M 627.07 258.62 L 627.07 24.57 " style="fill: none; stroke: #5a5a5a; stroke-width: 1.4; stroke-linejoin: miter; stroke-linecap: square"/> </g> <g id="patch_12"> <path d="M 68.44 258.62 L 627.07 258.62 " style="fill: none; stroke: #5a5a5a; stroke-width: 1.4; stroke-linejoin: miter; stroke-linecap: square"/> </g> <g id="patch_13"> <path d="M 68.44 24.57 L 627.07 24.57 " style="fill: none; stroke: #5a5a5a; stroke-width: 1.4; stroke-linejoin: miter; stroke-linecap: square"/> </g> </g> <g id="axes_3"> <g id="patch_14"> <path d="M 68.44 540.28 L 627.07 540.28 L 627.07 305.37 L 68.44 305.37 z " style="fill: #ffffff"/> </g> <g id="FillBetweenPolyCollection_2"> <g clip-path="url(#p14d8af0314)"> <path d="M 305.28 -324.74 L 305.28 -538.38 L 347.80 -538.38 L 347.80 -324.74 L 347.80 -324.74 L 305.28 -324.74 z" transform="translate(0.00 854.40)" style="fill: #ffff00; fill-opacity: 0.3"/> </g> </g> <g id="matplotlib.axis_4"> <g id="xtick_11"> <g id="line2d_48"> <path d="M 74.11 540.28 L 74.11 305.37 " clip-path="url(#p14d8af0314)" style="fill: none; stroke: #b0b0b0; stroke-width: 0.8; stroke-linecap: square"/> </g> <g id="line2d_49"> <g> <path d="M 0 0 L 0 3.5" transform="translate(74.11 540.29)" style="stroke: #000000; stroke-width: 0.8"/> </g> </g> </g> <g id="xtick_12"> <g id="line2d_50"> <path d="M 130.52 540.28 L 130.52 305.37 " clip-path="url(#p14d8af0314)" style="fill: none; stroke: #b0b0b0; stroke-width: 0.8; stroke-linecap: square"/> </g> <g id="line2d_51"> <g> <path d="M 0 0 L 0 3.5" transform="translate(130.52 540.29)" style="stroke: #000000; stroke-width: 0.8"/> </g> </g> </g> <g id="xtick_13"> <g id="line2d_52"> <path d="M 186.93 540.28 L 186.93 305.37 " clip-path="url(#p14d8af0314)" style="fill: none; stroke: #b0b0b0; stroke-width: 0.8; stroke-linecap: square"/> </g> <g id="line2d_53"> <g> <path d="M 0 0 L 0 3.5" transform="translate(186.93 540.29)" style="stroke: #000000; stroke-width: 0.8"/> </g> </g> </g> <g id="xtick_14"> <g id="line2d_54"> <path d="M 243.34 540.28 L 243.34 305.37 " clip-path="url(#p14d8af0314)" style="fill: none; stroke: #b0b0b0; stroke-width: 0.8; stroke-linecap: square"/> </g> <g id="line2d_55"> <g> <path d="M 0 0 L 0 3.5" transform="translate(243.34 540.29)" style="stroke: #000000; stroke-width: 0.8"/> </g> </g> </g> <g id="xtick_15"> <g id="line2d_56"> <path d="M 299.75 540.28 L 299.75 305.37 " clip-path="url(#p14d8af0314)" style="fill: none; stroke: #b0b0b0; stroke-width: 0.8; stroke-linecap: square"/> </g> <g id="line2d_57"> <g> <path d="M 0 0 L 0 3.5" transform="translate(299.75 540.29)" style="stroke: #000000; stroke-width: 0.8"/> </g> </g> </g> <g id="xtick_16"> <g id="line2d_58"> <path d="M 356.16 540.28 L 356.16 305.37 " clip-path="url(#p14d8af0314)" style="fill: none; stroke: #b0b0b0; stroke-width: 0.8; stroke-linecap: square"/> </g> <g id="line2d_59"> <g> <path d="M 0 0 L 0 3.5" transform="translate(356.16 540.29)" style="stroke: #000000; stroke-width: 0.8"/> </g> </g> </g> <g id="xtick_17"> <g id="line2d_60"> <path d="M 412.56 540.28 L 412.56 305.37 " clip-path="url(#p14d8af0314)" style="fill: none; stroke: #b0b0b0; stroke-width: 0.8; stroke-linecap: square"/> </g> <g id="line2d_61"> <g> <path d="M 0 0 L 0 3.5" transform="translate(412.57 540.29)" style="stroke: #000000; stroke-width: 0.8"/> </g> </g> </g> <g id="xtick_18"> <g id="line2d_62"> <path d="M 468.97 540.28 L 468.97 305.37 " clip-path="url(#p14d8af0314)" style="fill: none; stroke: #b0b0b0; stroke-width: 0.8; stroke-linecap: square"/> </g> <g id="line2d_63"> <g> <path d="M 0 0 L 0 3.5" transform="translate(468.98 540.29)" style="stroke: #000000; stroke-width: 0.8"/> </g> </g> </g> <g id="xtick_19"> <g id="line2d_64"> <path d="M 525.38 540.28 L 525.38 305.37 " clip-path="url(#p14d8af0314)" style="fill: none; stroke: #b0b0b0; stroke-width: 0.8; stroke-linecap: square"/> </g> <g id="line2d_65"> <g> <path d="M 0 0 L 0 3.5" transform="translate(525.39 540.29)" style="stroke: #000000; stroke-width: 0.8"/> </g> </g> </g> <g id="xtick_20"> <g id="line2d_66"> <path d="M 581.79 540.28 L 581.79 305.37 " clip-path="url(#p14d8af0314)" style="fill: none; stroke: #b0b0b0; stroke-width: 0.8; stroke-linecap: square"/> </g> <g id="line2d_67"> <g> <path d="M 0 0 L 0 3.5" transform="translate(581.80 540.29)" style="stroke: #000000; stroke-width: 0.8"/> </g> </g> </g> <g id="text_23"> <text style="font-size: 10px; font-family: 'DejaVu Sans', 'Liberation Sans', sans-serif; text-anchor: middle" x="347.76" y="555.38" transform="rotate(-0 347.76 555.38)">Time (UTC)</text> </g> </g> <g id="matplotlib.axis_5"> <g id="ytick_15"> <g id="line2d_68"> <path d="M 68.44 344.44 L 627.07 344.44 " clip-path="url(#p14d8af0314)" style="fill: none; stroke: #b0b0b0; stroke-width: 0.8; stroke-linecap: square"/> </g> <g id="line2d_69"> <g> <path d="M 0 0 L -3.5 0" transform="translate(68.45 344.45)" style="stroke: #000000; stroke-width: 0.8"/> </g> </g> <g id="text_24"> <text style="font-size: 10px; font-family: 'DejaVu Sans', 'Liberation Sans', sans-serif; text-anchor: end" x="61.44" y="348.24" transform="rotate(-0 61.44 348.24)">−1.5</text> </g> </g> <g id="ytick_16"> <g id="line2d_70"> <path d="M 68.44 384.31 L 627.07 384.31 " clip-path="url(#p14d8af0314)" style="fill: none; stroke: #b0b0b0; stroke-width: 0.8; stroke-linecap: square"/> </g> <g id="line2d_71"> <g> <path d="M 0 0 L -3.5 0" transform="translate(68.45 384.31)" style="stroke: #000000; stroke-width: 0.8"/> </g> </g> <g id="text_25"> <text style="font-size: 10px; font-family: 'DejaVu Sans', 'Liberation Sans', sans-serif; text-anchor: end" x="61.44" y="388.11" transform="rotate(-0 61.44 388.11)">−2.0</text> </g> </g> <g id="ytick_17"> <g id="line2d_72"> <path d="M 68.44 424.17 L 627.07 424.17 " clip-path="url(#p14d8af0314)" style="fill: none; stroke: #b0b0b0; stroke-width: 0.8; stroke-linecap: square"/> </g> <g id="line2d_73"> <g> <path d="M 0 0 L -3.5 0" transform="translate(68.45 424.18)" style="stroke: #000000; stroke-width: 0.8"/> </g> </g> <g id="text_26"> <text style="font-size: 10px; font-family: 'DejaVu Sans', 'Liberation Sans', sans-serif; text-anchor: end" x="61.44" y="427.97" transform="rotate(-0 61.44 427.97)">−2.5</text> </g> </g> <g id="ytick_18"> <g id="line2d_74"> <path d="M 68.44 464.04 L 627.07 464.04 " clip-path="url(#p14d8af0314)" style="fill: none; stroke: #b0b0b0; stroke-width: 0.8; stroke-linecap: square"/> </g> <g id="line2d_75"> <g> <path d="M 0 0 L -3.5 0" transform="translate(68.45 464.04)" style="stroke: #000000; stroke-width: 0.8"/> </g> </g> <g id="text_27"> <text style="font-size: 10px; font-family: 'DejaVu Sans', 'Liberation Sans', sans-serif; text-anchor: end" x="61.44" y="467.83" transform="rotate(-0 61.44 467.83)">−3.0</text> </g> </g> <g id="ytick_19"> <g id="line2d_76"> <path d="M 68.44 503.90 L 627.07 503.90 " clip-path="url(#p14d8af0314)" style="fill: none; stroke: #b0b0b0; stroke-width: 0.8; stroke-linecap: square"/> </g> <g id="line2d_77"> <g> <path d="M 0 0 L -3.5 0" transform="translate(68.45 503.90)" style="stroke: #000000; stroke-width: 0.8"/> </g> </g> <g id="text_28"> <text style="font-size: 10px; font-family: 'DejaVu Sans', 'Liberation Sans', sans-serif; text-anchor: end" x="61.44" y="507.70" transform="rotate(-0 61.44 507.70)">−3.5</text> </g> </g> <g id="text_29"> <text style="font-size: 10px; font-family: 'DejaVu Sans', 'Liberation Sans', sans-serif; text-anchor: middle" x="31.08" y="422.83" transform="rotate(-90 31.08 422.83)">Relative VTEC (TECU)</text> </g> </g> <g id="line2d_78"> <path d="M 134.59 326.12 L 135.36 326.83 L 136.12 327.57 L 136.89 326.85 L 137.66 326.51 L 138.43 329.37 L 139.2 331.12 L 139.96 329.69 L 140.73 330.53 L 141.50 332.03 L 142.27 331.31 L 143.04 330.78 L 143.80 331.72 L 144.57 334.48 L 145.34 336.55 L 146.11 337.21 L 146.88 338.46 L 147.64 340.05 L 148.41 339.45 L 149.18 339.86 L 149.95 341.74 L 150.72 342.12 L 151.48 343.33 L 152.25 345.04 L 153.02 346.14 L 153.79 346.15 L 154.56 346.92 L 155.32 350.18 L 156.09 350.71 L 156.86 349.11 L 157.63 350.92 L 158.4 353.39 L 159.16 354.55 L 159.93 354.41 L 160.70 355.80 L 161.47 357.06 L 162.24 356.64 L 163.00 357.30 L 163.77 358.46 L 164.54 359.83 L 165.31 360.79 L 166.08 360.76 L 166.84 361.44 L 167.61 361.98 L 168.38 362.42 L 169.15 361.86 L 169.92 360.56 L 170.68 362.41 L 171.45 362.92 L 172.22 362.56 L 172.99 363.82 L 173.76 364.07 L 174.52 364.16 L 175.29 365.70 L 176.06 364.55 L 176.83 364.47 L 177.6 368.00 L 178.36 367.86 L 179.13 367.25 L 179.90 368.69 L 180.67 370.91 L 181.44 370.57 L 182.20 370.35 L 182.97 372.00 L 183.74 373.11 L 184.51 373.85 L 185.28 374.42 L 186.04 374.54 L 186.81 374.63 L 187.58 374.84 L 188.35 374.35 L 189.12 374.71 L 189.88 375.07 L 190.65 374.37 L 191.42 375.53 L 192.19 376.23 L 192.96 374.59 L 193.72 376.39 L 194.49 377.79 L 195.26 378.35 L 196.03 379.81 L 196.8 380.60 L 197.56 381.69 L 198.33 382.18 L 199.10 383.23 L 199.87 386.14 L 200.64 385.73 L 201.40 385.53 L 202.17 388.48 L 202.94 388.86 L 203.71 388.29 L 204.48 390.62 L 205.24 391.46 L 206.01 391.56 L 206.78 392.34 L 207.55 391.14 L 208.32 391.25 L 209.08 391.79 L 209.85 392.43 L 210.62 393.24 L 211.39 393.49 L 212.16 394.26 L 212.92 396.03 L 213.69 397.41 L 214.46 396.77 L 215.23 396.68 L 216 398.18 L 216.76 398.77 L 217.53 398.88 L 218.30 399.24 L 219.07 399.90 L 219.84 401.43 L 220.60 402.91 L 221.37 403.38 L 222.14 404.87 L 222.91 405.56 L 223.68 407.08 L 224.44 408.56 L 225.21 407.49 L 225.98 407.03 L 226.75 404.78 L 227.52 405.01 L 228.28 407.05 L 229.05 408.46 L 229.82 407.40 L 230.59 407.54 L 231.36 408.87 L 232.12 408.64 L 232.89 407.66 L 233.66 407.84 L 234.43 409.90 L 235.2 410.84 L 235.96 412.07 L 236.73 412.37 L 237.50 414.49 L 238.27 417.27 L 239.04 418.57 L 239.80 420.32 L 240.57 422.20 L 241.34 422.58 L 242.11 421.55 L 242.88 421.27 L 243.64 423.74 L 244.41 425.80 L 245.18 425.59 L 245.95 425.46 L 246.72 426.05 L 247.48 427.00 L 248.25 427.38 L 249.02 427.53 L 249.79 429.88 L 250.56 431.15 L 251.32 429.92 L 252.09 429.53 L 252.86 430.09 L 253.63 432.11 L 254.4 433.76 L 255.16 433.77 L 255.93 433.94 L 256.70 434.53 L 257.47 434.38 L 258.24 436.11 L 259.00 437.75 L 259.77 439.19 L 260.54 439.06 L 261.31 437.92 L 262.08 439.67 L 262.84 440.24 L 263.61 439.34 L 264.38 439.50 L 265.15 441.28 L 265.92 443.05 L 266.68 443.82 L 267.45 445.17 L 268.22 446.80 L 268.99 447.24 L 269.76 447.48 L 270.52 447.99 L 271.29 449.25 L 272.06 450.94 L 272.83 451.59 L 273.6 452.50 L 274.36 453.46 L 275.13 453.42 L 275.90 454.18 L 276.67 456.89 L 277.44 459.09 L 278.20 460.88 L 278.97 461.84 L 279.74 462.57 L 280.51 464.65 L 281.28 465.97 L 282.04 465.88 L 282.81 466.30 L 283.58 468.03 L 284.35 468.71 L 285.12 470.17 L 285.88 472.76 L 286.65 473.38 L 287.42 475.31 L 288.19 476.71 L 288.96 476.51 L 289.72 477.82 L 290.49 478.76 L 291.26 480.48 L 292.03 482.25 L 292.8 484.37 L 293.56 486.05 L 294.33 486.41 L 295.10 486.88 L 295.87 486.58 L 296.64 487.70 L 297.40 489.11 L 298.17 490.85 L 298.94 492.44 L 299.71 493.95 L 300.48 495.50 L 301.24 495.97 L 302.01 496.60 L 302.78 497.07 L 303.55 498.24 L 304.32 499.61 L 305.08 499.58 L 305.85 500.17 L 306.62 503.32 L 307.39 503.82 L 308.16 502.75 L 308.92 503.23 L 309.69 503.31 L 310.46 505.10 L 311.23 506.64 L 312 506.55 L 312.76 508.28 L 313.53 510.29 L 314.30 508.95 L 315.07 508.48 L 315.84 510.02 L 316.60 510.09 L 317.37 510.51 L 318.14 510.55 L 318.91 511.56 L 319.68 512.25 L 320.44 511.67 L 321.21 512.36 L 321.98 512.99 L 322.75 512.72 L 323.52 512.59 L 324.28 513.73 L 325.05 514.11 L 325.82 513.11 L 326.59 512.44 L 327.36 512.52 L 328.12 512.64 L 328.89 513.20 L 329.66 514.34 L 330.43 513.13 L 331.2 513.22 L 331.96 515.31 L 332.73 515.66 L 333.50 514.82 L 334.27 515.83 L 335.04 516.27 L 335.80 514.83 L 336.57 514.83 L 337.34 515.91 L 338.11 517.57 L 338.88 518.63 L 339.64 518.36 L 340.41 517.02 L 341.18 516.69 L 341.95 516.24 L 342.72 515.60 L 343.48 514.04 L 344.25 513.27 L 345.02 513.95 L 345.79 512.81 L 346.56 511.72 L 347.32 477.00 L 348.09 436.78 L 348.86 418.48 L 349.63 422.17 L 350.4 425.22 L 351.16 421.77 L 351.93 418.10 L 352.70 414.41 L 353.47 411.19 L 354.24 409.37 L 355.00 405.68 L 355.77 403.53 L 356.54 400.38 L 357.31 396.19 L 358.08 392.71 L 358.84 390.50 L 359.61 388.43 L 360.38 385.95 L 361.15 383.91 L 361.92 383.14 L 362.68 381.33 L 363.45 378.07 L 364.22 378.55 L 364.99 380.52 L 365.76 380.41 L 366.52 378.77 L 367.29 378.63 L 368.06 380.74 L 368.83 381.67 L 369.6 382.82 L 370.36 382.39 L 371.13 382.31 L 371.90 383.51 L 372.67 385.91 L 373.44 388.24 L 374.20 390.01 L 374.97 391.46 L 375.74 391.60 L 376.51 393.09 L 377.28 395.43 L 378.04 397.29 L 378.81 397.46 L 379.58 396.30 L 380.35 392.91 L 381.12 388.54 L 381.88 385.51 L 382.65 384.31 L 383.42 386.15 L 384.19 387.60 L 384.96 387.71 L 385.72 387.99 L 386.49 387.06 L 387.26 387.58 L 388.03 387.99 L 388.8 387.61 L 389.56 387.27 L 390.33 385.32 L 391.10 383.83 L 391.87 384.28 L 392.64 382.73 L 393.40 379.96 L 394.17 379.43 L 394.94 378.55 L 395.71 377.38 L 396.48 377.19 L 397.24 376.82 L 398.01 372.62 L 398.78 368.80 L 399.55 367.40 L 400.32 366.91 L 401.08 366.31 L 401.85 365.68 L 402.62 366.05 L 403.39 365.51 L 404.16 364.30 L 404.92 363.84 L 405.69 363.24 L 406.46 362.35 L 407.23 362.19 L 408 361.53 L 408.76 360.20 L 409.53 359.43 L 410.30 358.06 L 411.07 356.96 L 411.84 356.35 L 412.60 356.48 L 413.37 356.13 L 414.14 354.71 L 414.91 354.83 L 415.68 355.51 L 416.44 353.76 L 417.21 354.16 L 417.98 354.99 L 418.75 353.38 L 419.52 353.69 L 420.28 354.00 L 421.05 354.03 L 421.82 356.63 L 422.59 357.47 L 423.36 357.07 L 424.12 359.53 L 424.89 360.03 L 425.66 359.97 L 426.43 360.96 L 427.2 362.66 L 427.96 361.79 L 428.73 360.12 L 429.50 361.18 L 430.27 361.27 L 431.04 360.25 L 431.80 360.86 L 432.57 362.14 L 433.34 362.56 L 434.11 363.64 L 434.88 364.42 L 435.64 364.32 L 436.41 363.07 L 437.18 360.89 L 437.95 359.43 L 438.72 359.16 L 439.48 357.82 L 440.25 356.58 L 441.02 355.13 L 441.79 355.46 L 442.56 356.91 L 443.32 355.03 L 444.09 353.27 L 444.86 352.80 L 445.63 352.82 L 446.4 352.70 L 447.16 351.54 L 447.93 350.74 L 448.70 350.42 L 449.47 349.54 L 450.24 349.56 L 451.00 349.41 L 451.77 348.96 L 452.54 349.44 L 453.31 350.16 L 454.08 350.40 L 454.84 350.69 L 455.61 350.42 L 456.38 350.48 L 457.15 351.30 L 457.92 351.36 L 458.68 351.73 L 459.45 352.23 L 460.22 350.81 L 460.99 350.40 L 461.76 350.75 L 462.52 351.35 L 463.29 351.03 L 464.06 349.53 L 464.83 349.73 L 465.6 352.02 L 466.36 352.86 L 467.13 352.40 L 467.90 353.48 L 468.67 352.75 L 469.44 353.46 L 470.20 355.70 L 470.97 356.06 L 471.74 356.50 L 472.51 356.63 L 473.28 356.24 L 474.04 356.48 L 474.81 356.95 L 475.58 358.75 L 476.35 359.02 L 477.12 358.11 L 477.88 357.69 L 478.65 357.24 L 479.42 358.81 L 480.19 358.72 L 480.96 357.26 L 481.72 358.11 L 482.49 358.60 L 483.26 360.15 L 484.03 358.98 L 484.8 358.06 L 485.56 359.76 L 486.33 358.37 L 487.10 357.07 L 487.87 357.74 L 488.64 358.90 L 489.40 357.60 L 490.17 355.03 L 490.94 355.94 L 491.71 357.66 L 492.48 356.39 L 493.24 354.21 L 494.01 356.04 L 494.78 358.02 L 495.55 358.41 L 496.32 359.12 L 497.08 358.72 L 497.85 359.05 L 498.62 360.92 L 499.39 362.77 L 500.16 360.58 L 500.92 359.23 L 501.69 362.14 L 502.46 362.79 L 503.23 360.92 L 504 361.43 L 504.76 362.54 L 505.53 362.73 L 506.30 362.74 L 507.07 362.85 L 507.84 363.28 L 508.60 364.18 L 509.37 364.40 L 510.14 364.44 L 510.91 365.36 L 511.68 366.90 L 512.44 367.72 L 513.21 367.22 L 513.98 367.87 L 514.75 368.99 L 515.52 370.13 L 516.28 370.97 L 517.05 372.21 L 517.82 373.55 L 518.59 373.07 L 519.36 372.47 L 520.12 373.40 L 520.89 374.33 L 521.66 373.97 L 522.43 372.91 L 523.2 372.04 L 523.96 373.58 L 524.73 375.64 L 525.50 376.25 L 526.27 375.51 L 527.04 376.43 L 527.80 377.71 L 528.57 378.04 L 529.34 379.45 L 530.11 379.41 L 530.88 379.50 L 531.64 379.68 L 532.41 380.53 L 533.18 381.80 L 533.95 383.80 L 534.72 386.14 L 535.48 387.54 L 536.25 388.82 L 537.02 388.85 L 537.79 389.85 L 538.56 390.80 L 539.32 391.76 L 540.09 393.02 L 540.86 392.72 L 541.63 393.29 L 542.4 394.78 L 543.16 395.49 L 543.93 397.20 L 544.70 399.72 L 545.47 400.00 L 546.24 399.75 L 547.00 399.62 L 547.77 400.91 L 548.54 403.20 L 549.31 402.78 L 550.08 404.24 L 550.84 407.07 L 551.61 407.34 L 552.38 407.65 L 553.15 408.45 L 553.92 410.19 L 554.68 410.78 L 555.45 411.01 L 556.22 414.33 L 556.99 415.54 L 557.76 415.50 L 558.52 416.32 L 559.29 415.80 L 560.06 416.33 L 560.83 417.87 L 561.6 417.66 L 562.36 418.07 L 563.13 420.07 L 563.90 421.03 L 564.67 419.60 L 565.44 418.70 L 566.20 419.18 L 566.97 421.06 L 567.74 423.06 L 568.51 423.31 L 569.28 422.79 L 570.04 421.85 L 570.81 422.79 L 571.58 423.96 L 572.35 423.62 L 573.12 423.95 L 573.88 425.27 L 574.65 425.63 L 575.42 424.79 L 576.19 423.57 L 576.96 424.69 L 577.72 426.82 L 578.49 427.40 L 579.26 427.59 L 580.03 427.88 L 580.8 429.24 L 581.56 430.33 L 582.33 430.70 L 583.10 430.84 L 583.87 431.11 L 584.64 432.65 L 585.40 433.15 L 586.17 432.95 L 586.94 434.18 L 587.71 436.62 L 588.48 437.74 L 589.24 438.68 L 590.01 439.23 L 590.78 438.80 L 591.55 438.71 L 592.32 439.18 L 593.08 441.67 L 593.85 442.85 L 594.62 442.95 L 595.39 443.78 L 596.16 443.85 L 596.92 443.80 L 597.69 444.62 L 598.46 446.00 L 599.23 447.02 L 600 447.69 L 600.76 448.27 " clip-path="url(#p14d8af0314)" style="fill: none; stroke: #0000ff; stroke-width: 1.7; stroke-linecap: square"/> </g> <g id="patch_15"> <path d="M 68.44 540.28 L 68.44 305.37 " style="fill: none; stroke: #5a5a5a; stroke-width: 1.4; stroke-linejoin: miter; stroke-linecap: square"/> </g> <g id="patch_16"> <path d="M 627.07 540.28 L 627.07 305.37 " style="fill: none; stroke: #5a5a5a; stroke-width: 1.4; stroke-linejoin: miter; stroke-linecap: square"/> </g> <g id="patch_17"> <path d="M 68.44 540.28 L 627.07 540.28 " style="fill: none; stroke: #5a5a5a; stroke-width: 1.4; stroke-linejoin: miter; stroke-linecap: square"/> </g> <g id="patch_18"> <path d="M 68.44 305.37 L 627.07 305.37 " style="fill: none; stroke: #5a5a5a; stroke-width: 1.4; stroke-linejoin: miter; stroke-linecap: square"/> </g> <g id="text_30"> <text style="font-size: 12px; font-family: 'DejaVu Sans', 'Liberation Sans', sans-serif; text-anchor: middle" x="347.76" y="299.37" transform="rotate(-0 347.76 299.37)">VTEC and ASI Intensity over Time for SV: G10 &amp; Receiver: wikr</text> </g> <g id="legend_2"> <g id="patch_19"> <path d="M 75.44 342.73 L 170.29 342.73 Q 172.29 342.73 172.29 340.73 L 172.29 312.37 Q 172.29 310.37 170.29 310.37 L 75.44 310.37 Q 73.44 310.37 73.44 312.37 L 73.44 340.73 Q 73.44 342.73 75.44 342.73 z " style="fill: #ffffff; opacity: 0.8; stroke: #cccccc; stroke-linejoin: miter"/> </g> <g id="line2d_79"> <path d="M 77.44 318.47 L 87.44 318.47 L 97.44 318.47 " style="fill: none; stroke: #0000ff; stroke-width: 1.5; stroke-linecap: square"/> </g> <g id="text_31"> <text style="font-size: 10px; font-family: 'DejaVu Sans', 'Liberation Sans', sans-serif; text-anchor: start" x="105.44" y="321.97" transform="rotate(-0 105.44 321.97)">VTEC</text> </g> <g id="line2d_80"> <path d="M 77.44 333.15 L 87.44 333.15 L 97.44 333.15 " style="fill: none; stroke-dasharray: 5.55,2.4; stroke-dashoffset: 0; stroke: #ff0000; stroke-width: 1.5"/> </g> <g id="text_32"> <text style="font-size: 10px; font-family: 'DejaVu Sans', 'Liberation Sans', sans-serif; text-anchor: start" x="105.44" y="336.65" transform="rotate(-0 105.44 336.65)">ASI Intensity</text> </g> </g> </g> <g id="axes_4"> <g id="matplotlib.axis_6"> <g id="ytick_20"> <g id="line2d_81"> <g> <path d="M 0 0 L 3.5 0" transform="translate(627.07 321.22)" style="stroke: #000000; stroke-width: 0.8"/> </g> </g> <g id="text_33"> <text style="font-size: 10px; font-family: 'DejaVu Sans', 'Liberation Sans', sans-serif; text-anchor: start; fill: #555555" x="634.07" y="325.01" transform="rotate(-0 634.07 325.01)">3400</text> </g> </g> <g id="ytick_21"> <g id="line2d_82"> <g> <path d="M 0 0 L 3.5 0" transform="translate(627.07 367.78)" style="stroke: #000000; stroke-width: 0.8"/> </g> </g> <g id="text_34"> <text style="font-size: 10px; font-family: 'DejaVu Sans', 'Liberation Sans', sans-serif; text-anchor: start; fill: #555555" x="634.07" y="371.57" transform="rotate(-0 634.07 371.57)">3200</text> </g> </g> <g id="ytick_22"> <g id="line2d_83"> <g> <path d="M 0 0 L 3.5 0" transform="translate(627.07 414.34)" style="stroke: #000000; stroke-width: 0.8"/> </g> </g> <g id="text_35"> <text style="font-size: 10px; font-family: 'DejaVu Sans', 'Liberation Sans', sans-serif; text-anchor: start; fill: #555555" x="634.07" y="418.13" transform="rotate(-0 634.07 418.13)">3000</text> </g> </g> <g id="ytick_23"> <g id="line2d_84"> <g> <path d="M 0 0 L 3.5 0" transform="translate(627.07 460.90)" style="stroke: #000000; stroke-width: 0.8"/> </g> </g> <g id="text_36"> <text style="font-size: 10px; font-family: 'DejaVu Sans', 'Liberation Sans', sans-serif; text-anchor: start; fill: #555555" x="634.07" y="464.69" transform="rotate(-0 634.07 464.69)">2800</text> </g> </g> <g id="ytick_24"> <g id="line2d_85"> <g> <path d="M 0 0 L 3.5 0" transform="translate(627.07 507.46)" style="stroke: #000000; stroke-width: 0.8"/> </g> </g> <g id="text_37"> <text style="font-size: 10px; font-family: 'DejaVu Sans', 'Liberation Sans', sans-serif; text-anchor: start; fill: #555555" x="634.07" y="511.25" transform="rotate(-0 634.07 511.25)">2600</text> </g> </g> <g id="text_38"> <text style="font-size: 10px; font-family: 'DejaVu Sans', 'Liberation Sans', sans-serif; text-anchor: middle; fill: #555555" x="671.12" y="422.83" transform="rotate(-90 671.12 422.83)">ASI Intensity (Counts)</text> </g> </g> <g id="line2d_86"> <path d="M 135.36 399.45 L 135.79 395.88 L 136.22 400.08 L 136.65 399.55 L 137.08 400.90 L 137.52 404.29 L 137.95 402.74 L 138.38 411.71 L 138.81 414.10 L 139.24 407.85 L 139.68 402.81 L 140.11 416.55 L 140.54 399.53 L 140.97 401.69 L 141.40 419.61 L 141.84 421.18 L 142.27 425.07 L 142.70 420.66 L 143.13 417.29 L 143.56 423.38 L 144 431.29 L 144.43 425.55 L 144.86 427.45 L 145.29 424.39 L 145.72 426.35 L 146.16 439.76 L 146.59 437.98 L 147.02 427.78 L 147.45 428.94 L 147.88 433.31 L 148.32 442.17 L 148.75 430.84 L 149.18 439.18 L 149.61 425.15 L 150.04 432.52 L 150.48 446.12 L 150.91 450.57 L 151.34 435.10 L 151.77 438.42 L 152.20 450.80 L 152.64 441.46 L 153.07 440.17 L 153.50 447.96 L 153.93 445.41 L 154.36 451.96 L 154.8 450.46 L 155.23 442.17 L 155.66 446.58 L 156.09 448.41 L 156.52 441.80 L 156.96 445.76 L 157.39 459.53 L 157.82 444.89 L 158.25 463.15 L 158.68 460.08 L 159.12 458.64 L 159.55 464.99 L 159.98 465.31 L 160.41 471.46 L 160.84 459.29 L 161.28 460.89 L 161.71 460.99 L 162.14 478.47 L 162.57 471.23 L 163.00 456.52 L 163.44 461.72 L 163.87 459.11 L 164.30 465.09 L 164.73 466.65 L 165.16 482.94 L 165.6 449.86 L 166.03 471.81 L 166.46 466.51 L 166.89 457.12 L 167.32 461.22 L 167.76 458.63 L 168.19 463.32 L 168.62 471.50 L 169.05 452.26 L 169.48 475.52 L 169.92 462.56 L 170.35 477.98 L 170.78 468.98 L 171.21 475.47 L 171.64 469.85 L 172.08 474.04 L 172.51 465.69 L 172.94 458.61 L 173.37 471.15 L 173.80 471.69 L 174.24 483.19 L 174.67 449.69 L 175.10 464.43 L 175.53 474.64 L 175.96 455.94 L 176.4 464.57 L 176.83 484.02 L 177.26 478.91 L 177.69 461.13 L 178.12 480.69 L 178.56 479.76 L 178.99 477.51 L 179.42 475.23 L 179.85 474.86 L 180.28 466.80 L 180.72 470.15 L 181.15 479.39 L 181.58 474.21 L 182.01 485.86 L 182.44 469.36 L 182.88 454.37 L 183.31 467.66 L 183.74 470.73 L 184.17 470.16 L 184.60 466.52 L 185.04 458.47 L 185.47 473.49 L 185.90 455.65 L 186.33 464.51 L 186.76 455.74 L 187.2 447.57 L 187.63 467.53 L 188.06 435.36 L 188.49 448.16 L 188.92 458.06 L 189.36 451.25 L 189.79 459.75 L 190.22 452.46 L 190.65 449.16 L 191.08 469.74 L 191.52 450.16 L 191.95 450.21 L 192.38 442.44 L 192.81 444.88 L 193.24 455.89 L 193.68 455.11 L 194.11 451.19 L 194.54 447.47 L 194.97 455.20 L 195.40 444.68 L 195.84 447.08 L 196.27 443.94 L 196.70 438.23 L 197.13 438.32 L 197.56 431.69 L 198 427.57 L 198.43 433.63 L 198.86 426.22 L 199.29 424.39 L 199.72 416.66 L 200.16 416.50 L 200.59 412.35 L 201.02 410.51 L 201.45 411.42 L 201.88 398.65 L 202.32 397.29 L 202.75 393.06 L 203.18 377.27 L 203.61 381.56 L 204.04 382.98 L 204.48 381.35 L 204.91 372.91 L 205.34 375.13 L 205.77 371.57 L 206.20 361.63 L 206.64 364.89 L 207.07 362.66 L 207.50 354.53 L 207.93 345.83 L 208.36 351.42 L 208.8 342.51 L 209.23 339.45 L 209.66 338.97 L 210.09 333.82 L 210.52 338.91 L 210.96 335.50 L 211.39 337.40 L 211.82 334.15 L 212.25 325.12 L 212.68 329.97 L 213.12 337.22 L 213.55 324.60 L 213.98 340.45 L 214.41 323.54 L 214.84 318.13 L 215.28 327.14 L 215.71 319.78 L 216.14 317.18 L 216.57 323.28 L 217.00 323.59 L 217.44 326.25 L 217.87 332.56 L 218.30 333.76 L 218.73 339.68 L 219.16 343.77 L 219.6 345.81 L 220.03 333.96 L 220.46 344.31 L 220.89 346.99 L 221.32 351.26 L 221.76 355.02 L 222.19 360.00 L 222.62 361.16 L 223.05 360.69 L 223.48 363.78 L 223.92 372.73 L 224.35 366.60 L 224.78 372.55 L 225.21 379.74 L 225.64 377.81 L 226.08 371.54 L 226.51 382.88 L 226.94 382.49 L 227.37 387.13 L 227.80 395.40 L 228.24 397.26 L 228.67 398.63 L 229.10 407.01 L 229.53 409.58 L 229.96 413.55 L 230.4 420.20 L 230.83 426.04 L 231.26 429.92 L 231.69 435.54 L 232.12 443.36 L 232.56 444.01 L 232.99 445.67 L 233.42 457.78 L 233.85 454.78 L 234.28 458.17 L 234.72 460.34 L 235.15 463.48 L 235.58 466.06 L 236.01 468.96 L 236.44 467.79 L 236.88 477.01 L 237.31 470.89 L 237.74 481.22 L 238.17 466.15 L 238.60 471.71 L 239.04 484.95 L 239.47 478.31 L 239.90 475.10 L 240.33 481.71 L 240.76 471.42 L 241.2 478.83 L 241.63 461.90 L 242.06 474.83 L 242.49 473.88 L 242.92 484.12 L 243.36 488.30 L 243.79 476.19 L 244.22 496.94 L 244.65 480.41 L 245.08 469.38 L 245.52 467.20 L 245.95 499.10 L 246.38 485.65 L 246.81 480.60 L 247.24 479.15 L 247.68 475.75 L 248.11 495.14 L 248.54 483.29 L 248.97 498.58 L 249.40 482.77 L 249.84 465.78 L 250.27 492.23 L 250.70 482.80 L 251.13 484.09 L 251.56 498.74 L 252 484.04 L 252.43 495.54 L 252.86 485.99 L 253.29 479.87 L 253.72 490.02 L 254.16 481.22 L 254.59 496.20 L 255.02 494.35 L 255.45 487.44 L 255.88 491.99 L 256.32 491.73 L 256.75 485.35 L 257.18 492.98 L 257.61 483.50 L 258.04 488.21 L 258.48 476.26 L 258.91 482.26 L 259.34 483.29 L 259.77 474.35 L 260.20 475.81 L 260.64 474.03 L 261.07 481.30 L 261.50 470.66 L 261.93 477.43 L 262.36 484.23 L 262.8 474.87 L 263.23 458.92 L 263.66 471.51 L 264.09 478.59 L 264.52 467.85 L 264.96 478.90 L 265.39 474.71 L 265.82 472.92 L 266.25 467.23 L 266.68 465.10 L 267.12 467.12 L 267.55 469.64 L 267.98 473.29 L 268.41 472.33 L 268.84 466.39 L 269.28 469.36 L 269.71 472.08 L 270.14 456.58 L 270.57 464.44 L 271.00 465.45 L 271.44 471.33 L 271.87 472.07 L 272.30 473.38 L 272.73 469.78 L 273.16 482.15 L 273.6 479.76 L 274.03 465.72 L 274.46 478.32 L 274.89 469.87 L 275.32 491.12 L 275.76 475.03 L 276.19 475.62 L 276.62 479.55 L 277.05 477.83 L 277.48 479.55 L 277.92 492.89 L 278.35 482.58 L 278.78 487.51 L 279.21 489.98 L 279.64 473.31 L 280.08 494.69 L 280.51 486.76 L 280.94 488.94 L 281.37 474.40 L 281.80 487.78 L 282.24 484.48 L 282.67 476.77 L 283.10 499.16 L 283.53 485.29 L 283.96 478.65 L 284.4 481.90 L 284.83 487.34 L 285.26 488.69 L 285.69 483.73 L 286.12 488.42 L 286.56 490.13 L 286.99 467.95 L 287.42 473.38 L 287.85 469.16 L 288.28 476.94 L 288.72 487.34 L 289.15 480.91 L 289.58 467.52 L 290.01 474.02 L 290.44 485.34 L 290.88 473.87 L 291.31 478.44 L 291.74 482.77 L 292.17 466.78 L 292.60 488.55 L 293.04 485.73 L 293.47 488.02 L 293.90 475.76 L 294.33 477.16 L 294.76 478.21 L 295.2 484.78 L 295.63 483.12 L 296.06 483.51 L 296.49 497.06 L 296.92 493.23 L 297.36 476.92 L 297.79 477.52 L 298.22 496.72 L 298.65 480.07 L 299.08 493.56 L 299.52 494.99 L 299.95 477.21 L 300.38 479.02 L 300.81 481.54 L 301.24 473.62 L 301.68 472.59 L 302.11 477.30 L 302.54 487.62 L 302.97 477.26 L 303.40 479.38 L 303.84 477.36 L 304.27 470.02 L 304.70 492.97 L 305.13 461.64 L 305.56 474.99 L 306 484.42 L 306.43 468.11 L 306.86 483.84 L 307.29 488.51 L 307.72 470.72 L 308.16 478.70 L 308.59 467.30 L 309.02 479.79 L 309.45 475.87 L 309.88 476.49 L 310.32 485.51 L 310.75 477.99 L 311.18 484.84 L 311.61 478.75 L 312.04 463.48 L 312.48 474.89 L 312.91 476.26 L 313.34 460.10 L 313.77 482.27 L 314.20 471.76 L 314.64 474.15 L 315.07 464.07 L 315.50 472.35 L 315.93 474.80 L 316.36 470.44 L 316.8 474.45 L 317.23 457.27 L 317.66 485.69 L 318.09 465.70 L 318.52 456.84 L 318.96 466.18 L 319.39 466.65 L 319.82 477.16 L 320.25 465.12 L 320.68 474.43 L 321.12 464.35 L 321.55 489.57 L 321.98 476.22 L 322.41 487.36 L 322.84 463.43 L 323.28 476.57 L 323.71 463.32 L 324.14 475.33 L 324.57 475.90 L 325.00 457.40 L 325.44 460.94 L 325.87 460.93 L 326.30 458.56 L 326.73 465.21 L 327.16 463.78 L 327.6 460.34 L 328.03 473.43 L 328.46 477.68 L 328.89 463.19 L 329.32 469.91 L 329.76 474.95 L 330.19 473.30 L 330.62 469.62 L 331.05 481.87 L 331.48 482.08 L 331.92 480.60 L 332.35 473.32 L 332.78 491.12 L 333.21 489.23 L 333.64 471.88 L 334.08 473.97 L 334.51 484.28 L 334.94 467.98 L 335.37 477.12 L 335.80 473.69 L 336.24 466.97 L 336.67 469.90 L 337.10 458.32 L 337.53 465.65 L 337.96 453.17 L 338.4 486.45 L 338.83 479.41 L 339.26 476.37 L 339.69 468.23 L 340.12 473.11 L 340.56 474.80 L 340.99 472.64 L 341.42 471.93 L 341.85 458.20 L 342.28 467.96 L 342.72 461.09 L 343.15 456.62 L 343.58 456.76 L 344.01 467.13 L 344.44 470.95 L 344.88 454.15 L 345.31 472.60 L 345.74 469.07 L 346.17 458.22 L 346.60 456.87 L 347.04 455.55 L 347.47 456.49 L 347.90 447.99 L 348.33 441.86 L 348.76 444.46 L 349.2 431.53 L 349.63 437.59 L 350.06 439.05 L 350.49 432.83 L 350.92 432.78 L 351.36 429.62 L 351.79 428.67 L 352.22 424.03 L 352.65 417.48 L 353.08 417.93 L 353.52 416.32 L 353.95 420.50 L 354.38 419.88 L 354.81 408.55 L 355.24 396.60 L 355.68 394.94 L 356.11 402.50 L 356.54 406.76 L 356.97 398.61 L 357.40 392.44 L 357.84 398.30 L 358.27 407.91 L 358.70 404.14 L 359.13 404.18 L 359.56 409.53 L 360 424.54 L 360.43 422.64 L 360.86 435.75 L 361.29 437.85 L 361.72 431.09 L 362.16 437.77 L 362.59 429.94 L 363.02 422.85 L 363.45 427.02 L 363.88 419.53 L 364.32 431.61 L 364.75 425.42 L 365.18 429.39 L 365.61 430.60 L 366.04 390.51 L 366.48 423.24 L 366.91 402.37 L 367.34 422.24 L 367.77 412.28 L 368.20 422.65 L 368.64 435.77 L 369.07 405.97 L 369.50 425.36 L 369.93 423.20 L 370.36 405.61 L 370.8 430.94 L 371.23 424.88 L 371.66 419.41 L 372.09 417.12 L 372.52 454.53 L 372.96 421.06 L 373.39 406.44 L 373.82 416.47 L 374.25 424.14 L 374.68 426.12 L 375.12 430.24 L 375.55 437.37 L 375.98 432.38 L 376.41 418.70 L 376.84 422.74 L 377.28 422.74 L 377.71 414.91 L 378.14 408.86 L 378.57 385.93 L 379.00 384.80 L 379.44 371.54 L 379.87 361.49 L 380.30 378.10 L 380.73 353.32 L 381.16 352.8 L 381.6 362.85 L 382.03 355.90 L 382.46 364.79 L 382.89 363.83 L 383.32 364.31 L 383.76 376.29 L 384.19 383.13 L 384.62 385.58 L 385.05 378.53 L 385.48 382.75 L 385.92 398.79 L 386.35 377.12 L 386.78 386.78 L 387.21 391.70 L 387.64 388.37 L 388.08 392.80 L 388.51 391.99 L 388.94 396.49 L 389.37 400.82 L 389.80 395.45 L 390.24 399.31 L 390.67 399.90 L 391.10 399.75 L 391.53 403.93 L 391.96 397.18 L 392.4 411.17 L 392.83 420.16 L 393.26 422.26 L 393.69 420.59 L 394.12 401.22 L 394.56 425.28 L 394.99 405.34 L 395.42 412.07 L 395.85 428.55 L 396.28 399.44 L 396.72 415.30 L 397.15 408.07 L 397.58 402.34 L 398.01 393.90 L 398.44 404.62 L 398.88 394.96 L 399.31 409.54 L 399.74 411.60 L 400.17 377.48 L 400.60 387.27 L 401.04 381.70 L 401.47 364.63 L 401.90 370.88 L 402.33 375.35 L 402.76 367.68 L 403.2 358.48 L 403.63 370.77 L 404.06 395.42 L 404.49 372.80 L 404.92 377.36 L 405.36 404.87 L 405.79 406.91 L 406.22 369.51 L 406.65 371.41 L 407.08 391.25 L 407.52 371.58 L 407.95 382.69 L 408.38 381.22 L 408.81 394.56 L 409.24 360.97 L 409.68 366.96 L 410.11 379.73 L 410.54 405.61 L 410.97 393.52 L 411.40 376.74 L 411.84 401.14 L 412.27 403.54 L 412.70 392.66 L 413.13 391.76 L 413.56 400.90 L 414 410.33 L 414.43 398.39 L 414.86 403.73 L 415.29 397.66 L 415.72 394.62 L 416.16 389.16 L 416.59 404.32 L 417.02 398.59 L 417.45 392.97 L 417.88 403.90 L 418.32 405.12 L 418.75 406.72 L 419.18 381.76 L 419.61 394.08 L 420.04 379.2 L 420.48 387.07 L 420.91 388.39 L 421.34 401.12 L 421.77 405.15 L 422.20 384.08 L 422.64 388.06 L 423.07 404.52 L 423.50 399.03 L 423.93 421.99 L 424.36 388.94 L 424.8 386.31 L 425.23 403.34 L 425.66 406.46 L 426.09 407.94 L 426.52 413.96 L 426.96 426.49 L 427.39 403.97 L 427.82 402.13 L 428.25 390.63 L 428.68 410.97 L 429.12 417.78 L 429.55 406.57 L 429.98 419.71 L 430.41 407.39 L 430.84 421.13 L 431.28 405.27 L 431.71 382.10 L 432.14 379.23 L 432.57 381.89 L 433.00 362.28 L 433.44 385.64 L 433.87 377.28 L 434.30 397.27 L 434.73 387.66 L 435.16 380.18 L 435.6 385.58 L 436.03 408.61 L 436.46 405.67 L 436.89 400.59 L 437.32 416.44 L 437.76 415.57 L 438.19 387.73 L 438.62 418.23 L 439.05 411.43 L 439.48 405.64 L 439.92 405.55 L 440.35 429.60 L 440.78 427.53 L 441.21 430.85 L 441.64 400.55 L 442.08 406.52 L 442.51 423.48 L 442.94 403.08 L 443.37 409.33 L 443.80 399.06 L 444.24 440.38 L 444.67 433.58 L 445.10 428.38 L 445.53 425.97 L 445.96 418.35 L 446.4 418.04 L 446.83 429.47 L 447.26 412.46 L 447.69 434.86 L 448.12 413.05 L 448.56 407.46 L 448.99 432.82 L 449.42 414.39 L 449.85 421.88 L 450.28 408.94 L 450.72 385.44 L 451.15 418.56 L 451.58 394.40 L 452.01 423.25 L 452.44 390.37 L 452.88 386.08 L 453.31 412.42 L 453.74 413.75 L 454.17 409.86 L 454.60 393.85 L 455.04 419.91 L 455.47 391.78 L 455.90 404.98 L 456.33 405.14 L 456.76 415.18 L 457.2 434.71 L 457.63 413.71 L 458.06 433.87 L 458.49 437.46 L 458.92 436.8 L 459.36 424.24 L 459.79 427.34 L 460.22 428.72 L 460.65 436.69 L 461.08 416.99 L 461.52 441.67 L 461.95 441.33 L 462.38 432.91 L 462.81 419.50 L 463.24 433.77 L 463.68 427.08 L 464.11 438.70 L 464.54 430.57 L 464.97 438.79 L 465.40 425.03 L 465.84 444.71 L 466.27 403.29 L 466.70 416.92 L 467.13 433.05 L 467.56 412.46 L 468 437.12 L 468.43 418.41 L 468.86 433.77 L 469.29 425.48 L 469.72 432.14 L 470.16 439.85 L 470.59 438.28 L 471.02 436.42 L 471.45 461.20 L 471.88 440.91 L 472.32 431.94 L 472.75 449.18 L 473.18 448.15 L 473.61 451.59 L 474.04 456.12 L 474.48 433.27 L 474.91 449.49 L 475.34 450.02 L 475.77 443.07 L 476.20 446.99 L 476.64 423.77 L 477.07 440.91 L 477.50 461.46 L 477.93 432.50 L 478.36 452.16 L 478.8 440.23 L 479.23 444.29 L 479.66 450.33 L 480.09 408.52 L 480.52 419.23 L 480.96 411.09 L 481.39 406.16 L 481.82 425.71 L 482.25 435.04 L 482.68 440.10 L 483.12 439.36 L 483.55 420.34 L 483.98 450.42 L 484.41 454.45 L 484.84 449.60 L 485.28 451.47 L 485.71 474.30 L 486.14 450.57 L 486.57 445.32 L 487.00 454.44 L 487.44 450.99 L 487.87 451.83 L 488.30 454.43 L 488.73 461.78 L 489.16 459.09 L 489.6 449.89 L 490.03 458.73 L 490.46 464.19 L 490.89 458.39 L 491.32 471.07 L 491.76 469.37 L 492.19 457.59 L 492.62 468.06 L 493.05 481.06 L 493.48 478.89 L 493.92 467.99 L 494.35 475.58 L 494.78 464.80 L 495.21 459.70 L 495.64 474.62 L 496.08 472.85 L 496.51 475.26 L 496.94 471.74 L 497.37 474.81 L 497.80 469.15 L 498.24 476.38 L 498.67 478.64 L 499.10 471.54 L 499.53 477.42 L 499.96 457.40 L 500.4 463.72 L 500.83 479.02 L 501.26 480.07 L 501.69 467.43 L 502.12 463.26 L 502.56 452.96 L 502.99 463.92 L 503.42 466.16 L 503.85 448.55 L 504.28 464.13 L 504.72 463.87 L 505.15 464.03 L 505.58 452.73 L 506.01 466.47 L 506.44 451.68 L 506.88 475.48 L 507.31 465.70 L 507.74 456.09 L 508.17 475.54 L 508.60 473.97 L 509.04 459.81 L 509.47 481.42 L 509.90 456.27 L 510.33 465.60 L 510.76 471.50 L 511.2 444.26 L 511.63 468.78 L 512.06 460.14 L 512.49 453.82 L 512.92 444.14 L 513.36 451.85 L 513.79 439.61 L 514.22 435.95 L 514.65 443.56 L 515.08 441.40 L 515.52 459.54 L 515.95 438.14 L 516.38 458.93 L 516.81 465.49 L 517.24 468.95 L 517.68 474.18 L 518.11 477.69 L 518.54 474.52 L 518.97 475.80 L 519.40 479.79 L 519.84 486.48 L 520.27 488.33 L 520.70 481.55 L 521.13 470.76 L 521.56 502.01 L 522 493.38 L 522.43 487.98 L 522.86 488.28 L 523.29 481.19 L 523.72 477.07 L 524.16 481.93 L 524.59 482.61 L 525.02 479.53 L 525.45 473.32 L 525.88 482.60 L 526.32 490.01 L 526.75 482.21 L 527.18 486.63 L 527.61 470.67 L 528.04 485.11 L 528.48 485.67 L 528.91 477.21 L 529.34 473.37 L 529.77 489.79 L 530.20 480.60 L 530.64 490.61 L 531.07 483.89 L 531.50 491.94 L 531.93 484.72 L 532.36 475.92 L 532.8 486.75 L 533.23 485.05 L 533.66 492.79 L 534.09 484.82 L 534.52 485.81 L 534.96 496.02 L 535.39 499.04 L 535.82 496.51 L 536.25 499.04 L 536.68 494.27 L 537.12 496.14 L 537.55 496.18 L 537.98 491.57 L 538.41 487.95 L 538.84 487.65 L 539.28 504.36 L 539.71 485.41 L 540.14 483.23 L 540.57 482.23 L 541.00 484.96 L 541.44 487.44 L 541.87 475.01 L 542.30 461.76 L 542.73 479.61 L 543.16 462.22 L 543.6 477.90 L 544.03 479.39 L 544.46 467.52 L 544.89 494.86 L 545.32 481.66 L 545.76 474.43 L 546.19 468.00 L 546.62 472.63 L 547.05 483.71 L 547.48 470.79 L 547.92 487.97 L 548.35 487.92 L 548.78 493.66 L 549.21 486.68 L 549.64 490.58 L 550.08 484.64 L 550.51 487.01 L 550.94 478.02 L 551.37 492.43 L 551.80 502.50 L 552.24 493.79 L 552.67 495.39 L 553.10 487.78 L 553.53 502.57 L 553.96 490.10 L 554.4 500.20 L 554.83 496.84 L 555.26 490.81 L 555.69 505.20 L 556.12 499.50 L 556.56 501.04 L 556.99 503.51 L 557.42 500.45 L 557.85 498.14 L 558.28 504.98 L 558.72 498.49 L 559.15 502.10 L 559.58 496.20 L 560.01 489.38 L 560.44 494.99 L 560.88 495.58 L 561.31 498.72 L 561.74 507.00 L 562.17 484.46 L 562.60 498.05 L 563.04 480.20 L 563.47 489.38 L 563.90 493.97 L 564.33 481.44 L 564.76 485.29 L 565.2 501.39 L 565.63 501.81 L 566.06 501.42 L 566.49 497.34 L 566.92 520.65 L 567.36 504.51 L 567.79 500.43 L 568.22 520.56 L 568.65 513.64 L 569.08 507.14 L 569.52 519.66 L 569.95 512.27 L 570.38 516.29 L 570.81 513.43 L 571.24 503.97 L 571.68 519.47 L 572.11 513.48 L 572.54 504.76 L 572.97 506.87 L 573.40 520.20 L 573.84 510.16 L 574.27 513.36 L 574.70 517.92 L 575.13 513.71 L 575.56 500.77 L 576 517.02 L 576.43 518.93 L 576.86 517.94 L 577.29 523.20 L 577.72 513.09 L 578.16 515.76 L 578.59 521.54 L 579.02 506.88 L 579.45 522.20 L 579.88 522.21 L 580.32 515.30 L 580.75 523.79 L 581.18 516.91 L 581.61 504.51 L 582.04 520.46 L 582.48 515.11 L 582.91 516.58 L 583.34 515.48 L 583.77 525.54 L 584.20 520.35 L 584.64 511.76 L 585.07 521.70 L 585.50 524.10 L 585.93 513.20 L 586.36 515.65 L 586.8 516.19 L 587.23 514.61 L 587.66 522.18 L 588.09 527.60 L 588.52 534.69 L 588.96 529.67 L 589.39 528.69 L 589.82 529.87 L 590.25 531.37 L 590.68 517.87 L 591.12 525.41 L 591.55 521.60 L 591.98 517.01 L 592.41 513.37 L 592.84 511.91 L 593.28 512.80 L 593.71 504.65 L 594.14 517.51 L 594.57 512.84 L 595.00 513.39 L 595.44 514.80 L 595.87 517.55 L 596.30 507.70 L 596.73 511.77 L 597.16 500.72 L 597.6 496.62 L 598.03 499.43 L 598.46 526.66 L 598.89 501.71 L 599.32 520.01 L 599.76 528.44 L 600.19 514.43 " clip-path="url(#pb3ce53a981)" style="fill: none; stroke-dasharray: 5.92,2.56; stroke-dashoffset: 0; stroke: #ff0000; stroke-width: 1.6"/> </g> <g id="patch_20"> <path d="M 68.44 540.28 L 68.44 305.37 " style="fill: none; stroke: #5a5a5a; stroke-width: 1.4; stroke-linejoin: miter; stroke-linecap: square"/> </g> <g id="patch_21"> <path d="M 627.07 540.28 L 627.07 305.37 " style="fill: none; stroke: #5a5a5a; stroke-width: 1.4; stroke-linejoin: miter; stroke-linecap: square"/> </g> <g id="patch_22"> <path d="M 68.44 540.28 L 627.07 540.28 " style="fill: none; stroke: #5a5a5a; stroke-width: 1.4; stroke-linejoin: miter; stroke-linecap: square"/> </g> <g id="patch_23"> <path d="M 68.44 305.37 L 627.07 305.37 " style="fill: none; stroke: #5a5a5a; stroke-width: 1.4; stroke-linejoin: miter; stroke-linecap: square"/> </g> </g> <g id="axes_5"> <g id="patch_24"> <path d="M 68.44 821.08 L 627.07 821.08 L 627.07 587.04 L 68.44 587.04 z " style="fill: #ffffff"/> </g> <g id="FillBetweenPolyCollection_3"> <g clip-path="url(#pee95d5d99b)"> <path d="M 305.28 -43.94 L 305.28 -256.72 L 347.80 -256.72 L 347.80 -43.94 L 347.80 -43.94 L 305.28 -43.94 z" transform="translate(0.00 854.40)" style="fill: #ffff00; fill-opacity: 0.3"/> </g> </g> <g id="matplotlib.axis_7"> <g id="xtick_21"> <g id="line2d_87"> <path d="M 74.11 821.08 L 74.11 587.04 " clip-path="url(#pee95d5d99b)" style="fill: none; stroke: #b0b0b0; stroke-width: 0.8; stroke-linecap: square"/> </g> <g id="line2d_88"> <g> <path d="M 0 0 L 0 3.5" transform="translate(74.11 821.09)" style="stroke: #000000; stroke-width: 0.8"/> </g> </g> <g id="text_39"> <text style="font-size: 10px; font-family: 'DejaVu Sans', 'Liberation Sans', sans-serif; text-anchor: middle" x="74.11" y="835.68" transform="rotate(-0 74.11 835.68)">05:53</text> </g> </g> <g id="xtick_22"> <g id="line2d_89"> <path d="M 130.52 821.08 L 130.52 587.04 " clip-path="url(#pee95d5d99b)" style="fill: none; stroke: #b0b0b0; stroke-width: 0.8; stroke-linecap: square"/> </g> <g id="line2d_90"> <g> <path d="M 0 0 L 0 3.5" transform="translate(130.52 821.09)" style="stroke: #000000; stroke-width: 0.8"/> </g> </g> <g id="text_40"> <text style="font-size: 10px; font-family: 'DejaVu Sans', 'Liberation Sans', sans-serif; text-anchor: middle" x="130.52" y="835.68" transform="rotate(-0 130.52 835.68)">06:13</text> </g> </g> <g id="xtick_23"> <g id="line2d_91"> <path d="M 186.93 821.08 L 186.93 587.04 " clip-path="url(#pee95d5d99b)" style="fill: none; stroke: #b0b0b0; stroke-width: 0.8; stroke-linecap: square"/> </g> <g id="line2d_92"> <g> <path d="M 0 0 L 0 3.5" transform="translate(186.93 821.09)" style="stroke: #000000; stroke-width: 0.8"/> </g> </g> <g id="text_41"> <text style="font-size: 10px; font-family: 'DejaVu Sans', 'Liberation Sans', sans-serif; text-anchor: middle" x="186.93" y="835.68" transform="rotate(-0 186.93 835.68)">06:33</text> </g> </g> <g id="xtick_24"> <g id="line2d_93"> <path d="M 243.34 821.08 L 243.34 587.04 " clip-path="url(#pee95d5d99b)" style="fill: none; stroke: #b0b0b0; stroke-width: 0.8; stroke-linecap: square"/> </g> <g id="line2d_94"> <g> <path d="M 0 0 L 0 3.5" transform="translate(243.34 821.09)" style="stroke: #000000; stroke-width: 0.8"/> </g> </g> <g id="text_42"> <text style="font-size: 10px; font-family: 'DejaVu Sans', 'Liberation Sans', sans-serif; text-anchor: middle" x="243.34" y="835.68" transform="rotate(-0 243.34 835.68)">06:53</text> </g> </g> <g id="xtick_25"> <g id="line2d_95"> <path d="M 299.75 821.08 L 299.75 587.04 " clip-path="url(#pee95d5d99b)" style="fill: none; stroke: #b0b0b0; stroke-width: 0.8; stroke-linecap: square"/> </g> <g id="line2d_96"> <g> <path d="M 0 0 L 0 3.5" transform="translate(299.75 821.09)" style="stroke: #000000; stroke-width: 0.8"/> </g> </g> <g id="text_43"> <text style="font-size: 10px; font-family: 'DejaVu Sans', 'Liberation Sans', sans-serif; text-anchor: middle" x="299.75" y="835.68" transform="rotate(-0 299.75 835.68)">07:13</text> </g> </g> <g id="xtick_26"> <g id="line2d_97"> <path d="M 356.16 821.08 L 356.16 587.04 " clip-path="url(#pee95d5d99b)" style="fill: none; stroke: #b0b0b0; stroke-width: 0.8; stroke-linecap: square"/> </g> <g id="line2d_98"> <g> <path d="M 0 0 L 0 3.5" transform="translate(356.16 821.09)" style="stroke: #000000; stroke-width: 0.8"/> </g> </g> <g id="text_44"> <text style="font-size: 10px; font-family: 'DejaVu Sans', 'Liberation Sans', sans-serif; text-anchor: middle" x="356.16" y="835.68" transform="rotate(-0 356.16 835.68)">07:33</text> </g> </g> <g id="xtick_27"> <g id="line2d_99"> <path d="M 412.56 821.08 L 412.56 587.04 " clip-path="url(#pee95d5d99b)" style="fill: none; stroke: #b0b0b0; stroke-width: 0.8; stroke-linecap: square"/> </g> <g id="line2d_100"> <g> <path d="M 0 0 L 0 3.5" transform="translate(412.57 821.09)" style="stroke: #000000; stroke-width: 0.8"/> </g> </g> <g id="text_45"> <text style="font-size: 10px; font-family: 'DejaVu Sans', 'Liberation Sans', sans-serif; text-anchor: middle" x="412.56" y="835.68" transform="rotate(-0 412.56 835.68)">07:53</text> </g> </g> <g id="xtick_28"> <g id="line2d_101"> <path d="M 468.97 821.08 L 468.97 587.04 " clip-path="url(#pee95d5d99b)" style="fill: none; stroke: #b0b0b0; stroke-width: 0.8; stroke-linecap: square"/> </g> <g id="line2d_102"> <g> <path d="M 0 0 L 0 3.5" transform="translate(468.98 821.09)" style="stroke: #000000; stroke-width: 0.8"/> </g> </g> <g id="text_46"> <text style="font-size: 10px; font-family: 'DejaVu Sans', 'Liberation Sans', sans-serif; text-anchor: middle" x="468.97" y="835.68" transform="rotate(-0 468.97 835.68)">08:13</text> </g> </g> <g id="xtick_29"> <g id="line2d_103"> <path d="M 525.38 821.08 L 525.38 587.04 " clip-path="url(#pee95d5d99b)" style="fill: none; stroke: #b0b0b0; stroke-width: 0.8; stroke-linecap: square"/> </g> <g id="line2d_104"> <g> <path d="M 0 0 L 0 3.5" transform="translate(525.39 821.09)" style="stroke: #000000; stroke-width: 0.8"/> </g> </g> <g id="text_47"> <text style="font-size: 10px; font-family: 'DejaVu Sans', 'Liberation Sans', sans-serif; text-anchor: middle" x="525.38" y="835.68" transform="rotate(-0 525.38 835.68)">08:33</text> </g> </g> <g id="xtick_30"> <g id="line2d_105"> <path d="M 581.79 821.08 L 581.79 587.04 " clip-path="url(#pee95d5d99b)" style="fill: none; stroke: #b0b0b0; stroke-width: 0.8; stroke-linecap: square"/> </g> <g id="line2d_106"> <g> <path d="M 0 0 L 0 3.5" transform="translate(581.80 821.09)" style="stroke: #000000; stroke-width: 0.8"/> </g> </g> <g id="text_48"> <text style="font-size: 10px; font-family: 'DejaVu Sans', 'Liberation Sans', sans-serif; text-anchor: middle" x="581.79" y="835.68" transform="rotate(-0 581.79 835.68)">08:53</text> </g> </g> <g id="text_49"> <text style="font-size: 10px; font-family: 'DejaVu Sans', 'Liberation Sans', sans-serif; text-anchor: middle" x="347.76" y="849.36" transform="rotate(-0 347.76 849.36)">Time (UTC)</text> </g> </g> <g id="matplotlib.axis_8"> <g id="ytick_25"> <g id="line2d_107"> <path d="M 68.44 809.37 L 627.07 809.37 " clip-path="url(#pee95d5d99b)" style="fill: none; stroke: #b0b0b0; stroke-width: 0.8; stroke-linecap: square"/> </g> <g id="line2d_108"> <g> <path d="M 0 0 L -3.5 0" transform="translate(68.45 809.38)" style="stroke: #000000; stroke-width: 0.8"/> </g> </g> <g id="text_50"> <text style="font-size: 10px; font-family: 'DejaVu Sans', 'Liberation Sans', sans-serif; text-anchor: end" x="61.44" y="813.17" transform="rotate(-0 61.44 813.17)">0.0</text> </g> </g> <g id="ytick_26"> <g id="line2d_109"> <path d="M 68.44 761.61 L 627.07 761.61 " clip-path="url(#pee95d5d99b)" style="fill: none; stroke: #b0b0b0; stroke-width: 0.8; stroke-linecap: square"/> </g> <g id="line2d_110"> <g> <path d="M 0 0 L -3.5 0" transform="translate(68.45 761.62)" style="stroke: #000000; stroke-width: 0.8"/> </g> </g> <g id="text_51"> <text style="font-size: 10px; font-family: 'DejaVu Sans', 'Liberation Sans', sans-serif; text-anchor: end" x="61.44" y="765.41" transform="rotate(-0 61.44 765.41)">0.5</text> </g> </g> <g id="ytick_27"> <g id="line2d_111"> <path d="M 68.44 713.85 L 627.07 713.85 " clip-path="url(#pee95d5d99b)" style="fill: none; stroke: #b0b0b0; stroke-width: 0.8; stroke-linecap: square"/> </g> <g id="line2d_112"> <g> <path d="M 0 0 L -3.5 0" transform="translate(68.45 713.86)" style="stroke: #000000; stroke-width: 0.8"/> </g> </g> <g id="text_52"> <text style="font-size: 10px; font-family: 'DejaVu Sans', 'Liberation Sans', sans-serif; text-anchor: end" x="61.44" y="717.65" transform="rotate(-0 61.44 717.65)">1.0</text> </g> </g> <g id="ytick_28"> <g id="line2d_113"> <path d="M 68.44 666.09 L 627.07 666.09 " clip-path="url(#pee95d5d99b)" style="fill: none; stroke: #b0b0b0; stroke-width: 0.8; stroke-linecap: square"/> </g> <g id="line2d_114"> <g> <path d="M 0 0 L -3.5 0" transform="translate(68.45 666.10)" style="stroke: #000000; stroke-width: 0.8"/> </g> </g> <g id="text_53"> <text style="font-size: 10px; font-family: 'DejaVu Sans', 'Liberation Sans', sans-serif; text-anchor: end" x="61.44" y="669.89" transform="rotate(-0 61.44 669.89)">1.5</text> </g> </g> <g id="ytick_29"> <g id="line2d_115"> <path d="M 68.44 618.33 L 627.07 618.33 " clip-path="url(#pee95d5d99b)" style="fill: none; stroke: #b0b0b0; stroke-width: 0.8; stroke-linecap: square"/> </g> <g id="line2d_116"> <g> <path d="M 0 0 L -3.5 0" transform="translate(68.45 618.34)" style="stroke: #000000; stroke-width: 0.8"/> </g> </g> <g id="text_54"> <text style="font-size: 10px; font-family: 'DejaVu Sans', 'Liberation Sans', sans-serif; text-anchor: end" x="61.44" y="622.13" transform="rotate(-0 61.44 622.13)">2.0</text> </g> </g> <g id="text_55"> <text style="font-size: 10px; font-family: 'DejaVu Sans', 'Liberation Sans', sans-serif; text-anchor: middle" x="39.46" y="704.06" transform="rotate(-90 39.46 704.06)">Relative VTEC (TECU)</text> </g> </g> <g id="line2d_117"> <path d="M 213.88 800.79 L 214.65 800.52 L 215.42 798.85 L 216.19 797.75 L 216.96 797.32 L 217.72 796.79 L 218.49 795.79 L 219.26 793.79 L 220.03 792.97 L 220.8 793.71 L 221.56 794.81 L 222.33 794.61 L 223.10 792.94 L 223.87 793.29 L 224.64 793.08 L 225.40 792.06 L 226.17 792.04 L 226.94 790.85 L 227.71 791.20 L 228.48 792.32 L 229.24 791.37 L 230.01 790.19 L 230.78 790.42 L 231.55 792.03 L 232.32 791.34 L 233.08 789.56 L 233.85 790.18 L 234.62 789.76 L 235.39 787.91 L 236.16 788.63 L 236.92 789.61 L 237.69 789.67 L 238.46 789.71 L 239.23 790.06 L 240 790.23 L 240.76 789.47 L 241.53 789.19 L 242.30 789.91 L 243.07 790.75 L 243.84 790.78 L 244.60 790.35 L 245.37 787.25 L 246.14 785.85 L 246.91 787.63 L 247.68 788.20 L 248.44 787.07 L 249.21 787.64 L 249.98 788.70 L 250.75 787.37 L 251.52 787.43 L 252.28 787.77 L 253.05 787.30 L 253.82 788.04 L 254.59 788.40 L 255.36 787.25 L 256.12 787.29 L 256.89 788.28 L 257.66 787.83 L 258.43 788.61 L 259.2 788.44 L 259.96 788.62 L 260.73 789.82 L 261.50 787.83 L 262.27 787.15 L 263.04 788.44 L 263.80 787.92 L 264.57 785.85 L 265.34 785.60 L 266.11 787.30 L 266.88 785.76 L 267.64 784.33 L 268.41 784.89 L 269.18 783.98 L 269.95 783.25 L 270.72 782.61 L 271.48 783.06 L 272.25 783.17 L 273.02 781.27 L 273.79 781.41 L 274.56 780.69 L 275.32 779.57 L 276.09 780.06 L 276.86 779.91 L 277.63 779.51 L 278.4 779.69 L 279.16 780.18 L 279.93 780.88 L 280.70 781.88 L 281.47 783.43 L 282.24 783.02 L 283.00 781.91 L 283.77 782.25 L 284.54 781.10 L 285.31 779.94 L 286.08 779.67 L 286.84 778.60 L 287.61 776.91 L 288.38 777.94 L 289.15 777.23 L 289.92 777.10 L 290.68 777.35 L 291.45 775.92 L 292.22 775.54 L 292.99 775.04 L 293.76 774.17 L 294.52 773.02 L 295.29 772.42 L 296.06 772.41 L 296.83 772.31 L 297.6 771.50 L 298.36 770.01 L 299.13 768.05 L 299.90 765.70 L 300.67 765.38 L 301.44 766.32 L 302.20 764.84 L 302.97 764.05 L 303.74 764.43 L 304.51 763.18 L 305.28 762.26 L 306.04 762.02 L 306.81 760.12 L 307.58 759.59 L 308.35 760.49 L 309.12 761.17 L 309.88 760.86 L 310.65 760.21 L 311.42 760.14 L 312.19 760.41 L 312.96 760.70 L 313.72 760.92 L 314.49 760.95 L 315.26 759.93 L 316.03 759.09 L 316.8 758.58 L 317.56 758.03 L 318.33 758.54 L 319.10 756.27 L 319.87 754.49 L 320.64 755.78 L 321.40 756.05 L 322.17 754.48 L 322.94 753.34 L 323.71 754.05 L 324.48 752.90 L 325.24 750.41 L 326.01 750.05 L 326.78 750.23 L 327.55 750.62 L 328.32 750.55 L 329.08 751.02 L 329.85 751.39 L 330.62 749.34 L 331.39 748.60 L 332.16 748.10 L 332.92 747.79 L 333.69 748.62 L 334.46 747.28 L 335.23 745.97 L 336 744.56 L 336.76 743.21 L 337.53 744.49 L 338.30 742.41 L 339.07 740.60 L 339.84 741.01 L 340.60 737.56 L 341.37 734.45 L 342.14 733.72 L 342.91 734.01 L 343.68 733.04 L 344.44 731.21 L 345.21 731.22 L 345.98 730.64 L 346.75 729.55 L 347.52 728.48 L 348.28 728.32 L 349.05 727.25 L 349.82 727.09 L 350.59 726.99 L 351.36 724.93 L 352.12 725.20 L 352.89 725.66 L 353.66 723.48 L 354.43 722.94 L 355.2 721.52 L 355.96 718.47 L 356.73 717.59 L 357.50 716.40 L 358.27 716.87 L 359.04 717.97 L 359.80 719.81 L 360.57 720.77 L 361.34 719.42 L 362.11 719.51 L 362.88 720.26 L 363.64 721.47 L 364.41 722.46 L 365.18 723.41 L 365.95 723.90 L 366.72 723.71 L 367.48 724.19 L 368.25 723.97 L 369.02 723.65 L 369.79 723.96 L 370.56 724.00 L 371.32 722.79 L 372.09 720.76 L 372.86 720.28 L 373.63 721.37 L 374.4 719.93 L 375.16 719.10 L 375.93 720.78 L 376.70 720.41 L 377.47 719.04 L 378.24 720.30 L 379.00 721.68 L 379.77 720.01 L 380.54 719.65 L 381.31 720.61 L 382.08 719.20 L 382.84 720.40 L 383.61 720.79 L 384.38 719.05 L 385.15 719.20 L 385.92 719.69 L 386.68 719.80 L 387.45 720.00 L 388.22 721.89 L 388.99 722.30 L 389.76 721.38 L 390.52 722.28 L 391.29 721.85 L 392.06 721.46 L 392.83 721.86 L 393.6 721.35 L 394.36 722.35 L 395.13 723.05 L 395.90 723.76 L 396.67 723.91 L 397.44 724.33 L 398.20 725.91 L 398.97 726.97 L 399.74 726.63 L 400.51 726.98 L 401.28 728.05 L 402.04 728.53 L 402.81 728.74 L 403.58 728.47 L 404.35 727.52 L 405.12 727.10 L 405.88 726.23 L 406.65 723.88 L 407.42 723.96 L 408.19 723.83 L 408.96 722.26 L 409.72 721.60 L 410.49 721.70 L 411.26 720.73 L 412.03 719.53 L 412.8 719.40 L 413.56 717.80 L 414.33 716.48 L 415.10 717.06 L 415.87 717.82 L 416.64 717.46 L 417.40 717.86 L 418.17 717.52 L 418.94 716.47 L 419.71 716.20 L 420.48 716.08 L 421.24 715.92 L 422.01 715.24 L 422.78 716.78 L 423.55 715.74 L 424.32 714.16 L 425.08 715.33 L 425.85 714.87 L 426.62 713.53 L 427.39 712.90 L 428.16 712.85 L 428.92 711.87 L 429.69 711.78 L 430.46 711.85 L 431.23 711.13 L 432 711.49 L 432.76 710.77 L 433.53 710.54 L 434.30 711.30 L 435.07 711.74 L 435.84 712.66 L 436.60 712.99 L 437.37 712.73 L 438.14 712.50 L 438.91 713.04 L 439.68 714.14 L 440.44 715.46 L 441.21 716.23 L 441.98 715.54 L 442.75 715.02 L 443.52 714.42 L 444.28 713.02 L 445.05 713.68 L 445.82 714.89 L 446.59 714.58 L 447.36 713.95 L 448.12 715.49 L 448.89 716.28 L 449.66 714.91 L 450.43 717.16 L 451.2 718.54 L 451.96 716.88 L 452.73 717.35 L 453.50 717.18 L 454.27 717.93 L 455.04 717.52 L 455.80 715.68 L 456.57 716.75 L 457.34 717.23 L 458.11 718.40 L 458.88 717.95 L 459.64 716.62 L 460.41 717.98 L 461.18 718.98 L 461.95 719.62 L 462.72 719.37 L 463.48 719.88 L 464.25 719.02 L 465.02 717.34 L 465.79 717.94 L 466.56 717.30 L 467.32 716.21 L 468.09 715.81 L 468.86 715.26 L 469.63 714.42 L 470.4 714.10 L 471.16 713.42 L 471.93 713.66 L 472.70 713.25 L 473.47 714.00 L 474.24 715.83 L 475.00 714.79 L 475.77 713.11 L 476.54 711.58 L 477.31 712.25 L 478.08 712.51 L 478.84 711.81 L 479.61 710.95 L 480.38 711.05 L 481.15 710.74 L 481.92 709.84 L 482.68 708.96 L 483.45 708.20 L 484.22 709.46 L 484.99 709.31 L 485.76 708.28 L 486.52 708.74 L 487.29 708.61 L 488.06 708.53 L 488.83 706.56 L 489.6 705.72 L 490.36 707.31 L 491.13 705.50 L 491.90 703.89 L 492.67 705.15 L 493.44 705.60 L 494.20 704.88 L 494.97 706.30 L 495.74 706.81 L 496.51 707.03 L 497.28 706.97 L 498.04 707.15 L 498.81 708.76 L 499.58 708.83 L 500.35 706.23 L 501.12 706.08 L 501.88 707.22 L 502.65 705.79 L 503.42 706.31 L 504.19 705.36 L 504.96 705.31 L 505.72 705.68 L 506.49 705.10 L 507.26 705.12 L 508.03 702.89 L 508.8 702.72 L 509.56 703.58 L 510.33 703.62 L 511.10 703.85 L 511.87 702.62 L 512.64 701.97 L 513.40 702.81 L 514.17 702.04 L 514.94 700.64 L 515.71 699.73 L 516.48 700.36 L 517.24 701.04 L 518.01 699.46 L 518.78 697.51 L 519.55 698.40 L 520.32 697.74 L 521.08 696.51 L 521.85 696.50 L 522.62 694.70 L 523.39 694.77 L 524.16 695.19 L 524.92 695.44 L 525.69 696.47 L 526.46 694.73 L 527.23 693.25 L 528 693.45 L 528.76 691.77 L 529.53 689.84 L 530.30 690.64 L 531.07 690.33 L 531.84 688.47 L 532.60 687.76 L 533.37 686.93 L 534.14 685.96 L 534.91 685.80 L 535.68 686.30 L 536.44 684.79 L 537.21 682.25 L 537.98 681.58 L 538.75 680.35 L 539.52 678.72 L 540.28 679.40 L 541.05 680.24 L 541.82 678.50 L 542.59 675.06 L 543.36 673.93 L 544.12 671.60 L 544.89 669.07 L 545.66 670.08 L 546.43 669.52 L 547.2 666.02 L 547.96 662.85 L 548.73 662.82 L 549.50 662.36 L 550.27 659.83 L 551.04 658.59 L 551.80 657.06 L 552.57 653.93 L 553.34 653.31 L 554.11 652.98 L 554.88 650.61 L 555.64 649.00 L 556.41 648.70 L 557.18 647.91 L 557.95 647.02 L 558.72 646.24 L 559.48 645.39 L 560.25 644.15 L 561.02 641.82 L 561.79 639.59 L 562.56 638.13 L 563.32 638.79 L 564.09 640.46 L 564.86 638.18 L 565.63 634.47 L 566.4 634.60 L 567.16 634.68 L 567.93 633.05 L 568.70 631.83 L 569.47 630.28 L 570.24 629.27 L 571.00 630.21 L 571.77 630.75 L 572.54 629.28 L 573.31 627.24 L 574.08 626.90 L 574.84 627.07 L 575.61 626.34 L 576.38 624.39 L 577.15 623.67 L 577.92 624.19 L 578.68 622.84 L 579.45 620.65 L 580.22 620.84 L 580.99 621.36 L 581.76 621.04 L 582.52 620.22 L 583.29 618.52 L 584.06 617.55 L 584.83 616.68 L 585.6 615.72 L 586.36 615.43 L 587.13 615.13 L 587.90 615.65 L 588.67 614.53 L 589.44 613.29 L 590.20 613.53 L 590.97 614.37 L 591.74 614.75 L 592.51 613.30 L 593.28 613.48 L 594.04 613.58 L 594.81 612.26 L 595.58 612.56 L 596.35 612.66 L 597.12 612.10 L 597.88 611.70 L 598.65 610.36 L 599.42 608.98 L 600.19 607.02 L 600.96 606.72 " clip-path="url(#pee95d5d99b)" style="fill: none; stroke: #0000ff; stroke-width: 1.7; stroke-linecap: square"/> </g> <g id="patch_25"> <path d="M 68.44 821.08 L 68.44 587.04 " style="fill: none; stroke: #5a5a5a; stroke-width: 1.4; stroke-linejoin: miter; stroke-linecap: square"/> </g> <g id="patch_26"> <path d="M 627.07 821.08 L 627.07 587.04 " style="fill: none; stroke: #5a5a5a; stroke-width: 1.4; stroke-linejoin: miter; stroke-linecap: square"/> </g> <g id="patch_27"> <path d="M 68.44 821.08 L 627.07 821.08 " style="fill: none; stroke: #5a5a5a; stroke-width: 1.4; stroke-linejoin: miter; stroke-linecap: square"/> </g> <g id="patch_28"> <path d="M 68.44 587.04 L 627.07 587.04 " style="fill: none; stroke: #5a5a5a; stroke-width: 1.4; stroke-linejoin: miter; stroke-linecap: square"/> </g> <g id="text_56"> <text style="font-size: 10px; font-family: 'DejaVu Sans', 'Liberation Sans', sans-serif; text-anchor: start" x="127.87" y="606.59" transform="rotate(-0 127.87 606.59)">STEVE passes over the pierce point</text> </g> <g id="text_57"> <text style="font-size: 10px; font-family: 'DejaVu Sans', 'Liberation Sans', sans-serif; text-anchor: start" x="349.15" y="606.59" transform="rotate(-0 349.15 606.59)">STEVE leaves and the auroral oval moves in</text> </g> <g id="patch_29"> <path d="M 226.56 611.80 Q 264.76 638.30 301.13 663.52 " style="fill: none; stroke: #008000; stroke-width: 2; stroke-linecap: round"/> <path d="M 298.99 659.60 L 301.13 663.52 L 296.71 662.88 z " style="fill: #008000; stroke: #008000; stroke-width: 2; stroke-linecap: round"/> </g> <g id="patch_30"> <path d="M 445.92 611.61 Q 397.68 638.35 351.39 664.00 " style="fill: none; stroke: #ff0000; stroke-width: 2; stroke-linecap: round"/> <path d="M 355.86 663.81 L 351.39 664.00 L 353.92 660.31 z " style="fill: #ff0000; stroke: #ff0000; stroke-width: 2; stroke-linecap: round"/> </g> <g id="text_58"> <text style="font-size: 12px; font-family: 'DejaVu Sans', 'Liberation Sans', sans-serif; text-anchor: middle" x="347.76" y="581.04" transform="rotate(-0 347.76 581.04)">VTEC and ASI Intensity over Time for SV: G08 &amp; Receiver: ab35</text> </g> <g id="legend_3"> <g id="patch_31"> <path d="M 75.44 624.39 L 170.29 624.39 Q 172.29 624.39 172.29 622.39 L 172.29 594.04 Q 172.29 592.04 170.29 592.04 L 75.44 592.04 Q 73.44 592.04 73.44 594.04 L 73.44 622.39 Q 73.44 624.39 75.44 624.39 z " style="fill: #ffffff; opacity: 0.8; stroke: #cccccc; stroke-linejoin: miter"/> </g> <g id="line2d_118"> <path d="M 77.44 600.13 L 87.44 600.13 L 97.44 600.13 " style="fill: none; stroke: #0000ff; stroke-width: 1.5; stroke-linecap: square"/> </g> <g id="text_59"> <text style="font-size: 10px; font-family: 'DejaVu Sans', 'Liberation Sans', sans-serif; text-anchor: start" x="105.44" y="603.63" transform="rotate(-0 105.44 603.63)">VTEC</text> </g> <g id="line2d_119"> <path d="M 77.44 614.81 L 87.44 614.81 L 97.44 614.81 " style="fill: none; stroke-dasharray: 5.55,2.4; stroke-dashoffset: 0; stroke: #ff0000; stroke-width: 1.5"/> </g> <g id="text_60"> <text style="font-size: 10px; font-family: 'DejaVu Sans', 'Liberation Sans', sans-serif; text-anchor: start" x="105.44" y="618.31" transform="rotate(-0 105.44 618.31)">ASI Intensity</text> </g> </g> </g> <g id="axes_6"> <g id="matplotlib.axis_9"> <g id="ytick_30"> <g id="line2d_120"> <g> <path d="M 0 0 L 3.5 0" transform="translate(627.07 588.67)" style="stroke: #000000; stroke-width: 0.8"/> </g> </g> <g id="text_61"> <text style="font-size: 10px; font-family: 'DejaVu Sans', 'Liberation Sans', sans-serif; text-anchor: start; fill: #555555" x="634.07" y="592.47" transform="rotate(-0 634.07 592.47)">3400</text> </g> </g> <g id="ytick_31"> <g id="line2d_121"> <g> <path d="M 0 0 L 3.5 0" transform="translate(627.07 636.91)" style="stroke: #000000; stroke-width: 0.8"/> </g> </g> <g id="text_62"> <text style="font-size: 10px; font-family: 'DejaVu Sans', 'Liberation Sans', sans-serif; text-anchor: start; fill: #555555" x="634.07" y="640.71" transform="rotate(-0 634.07 640.71)">3200</text> </g> </g> <g id="ytick_32"> <g id="line2d_122"> <g> <path d="M 0 0 L 3.5 0" transform="translate(627.07 685.15)" style="stroke: #000000; stroke-width: 0.8"/> </g> </g> <g id="text_63"> <text style="font-size: 10px; font-family: 'DejaVu Sans', 'Liberation Sans', sans-serif; text-anchor: start; fill: #555555" x="634.07" y="688.95" transform="rotate(-0 634.07 688.95)">3000</text> </g> </g> <g id="ytick_33"> <g id="line2d_123"> <g> <path d="M 0 0 L 3.5 0" transform="translate(627.07 733.39)" style="stroke: #000000; stroke-width: 0.8"/> </g> </g> <g id="text_64"> <text style="font-size: 10px; font-family: 'DejaVu Sans', 'Liberation Sans', sans-serif; text-anchor: start; fill: #555555" x="634.07" y="737.19" transform="rotate(-0 634.07 737.19)">2800</text> </g> </g> <g id="ytick_34"> <g id="line2d_124"> <g> <path d="M 0 0 L 3.5 0" transform="translate(627.07 781.63)" style="stroke: #000000; stroke-width: 0.8"/> </g> </g> <g id="text_65"> <text style="font-size: 10px; font-family: 'DejaVu Sans', 'Liberation Sans', sans-serif; text-anchor: start; fill: #555555" x="634.07" y="785.43" transform="rotate(-0 634.07 785.43)">2600</text> </g> </g> <g id="text_66"> <text style="font-size: 10px; font-family: 'DejaVu Sans', 'Liberation Sans', sans-serif; text-anchor: middle; fill: #555555" x="671.12" y="704.06" transform="rotate(-90 671.12 704.06)">ASI Intensity (Counts)</text> </g> </g> <g id="line2d_125"> <path d="M 213.88 604.75 L 214.32 606.32 L 214.75 628.39 L 215.18 615.14 L 215.61 617.04 L 216.04 634.85 L 216.48 611.37 L 216.91 639.99 L 217.34 615.09 L 217.77 628.38 L 218.20 624.86 L 218.64 616.60 L 219.07 602.88 L 219.50 622.30 L 219.93 609.42 L 220.36 613.87 L 220.8 613.65 L 221.23 601.28 L 221.66 632.70 L 222.09 648 L 222.52 631.01 L 222.96 632.51 L 223.39 621.43 L 223.82 637.34 L 224.25 651.36 L 224.68 651.26 L 225.12 662.47 L 225.55 669.78 L 225.98 675.20 L 226.41 675.21 L 226.84 677.07 L 227.28 689.74 L 227.71 691.72 L 228.14 699.87 L 228.57 708.25 L 229.00 712.20 L 229.44 710.35 L 229.87 716.15 L 230.30 720.93 L 230.73 718.21 L 231.16 721.94 L 231.6 726.80 L 232.03 725.29 L 232.46 725.30 L 232.89 726.07 L 233.32 730.41 L 233.76 729.90 L 234.19 736.60 L 234.62 735.99 L 235.05 745.87 L 235.48 748.56 L 235.92 743.51 L 236.35 755.21 L 236.78 753.36 L 237.21 761.72 L 237.64 758.29 L 238.08 755.05 L 238.51 759.90 L 238.94 750.51 L 239.37 757.06 L 239.80 757.45 L 240.24 753.16 L 240.67 756.82 L 241.10 746.09 L 241.53 757.77 L 241.96 744.38 L 242.4 758.17 L 242.83 757.02 L 243.26 758.77 L 243.69 749.23 L 244.12 776.18 L 244.56 751.55 L 244.99 754.23 L 245.42 747.04 L 245.85 763.28 L 246.28 748.28 L 246.72 759.42 L 247.15 744.39 L 247.58 753.92 L 248.01 748.56 L 248.44 758.54 L 248.88 749.07 L 249.31 744.64 L 249.74 754.78 L 250.17 742.09 L 250.60 743.90 L 251.04 757.18 L 251.47 736.78 L 251.90 756.96 L 252.33 747.89 L 252.76 743.77 L 253.2 752.60 L 253.63 755.58 L 254.06 746.34 L 254.49 749.60 L 254.92 757.31 L 255.36 757.26 L 255.79 751.45 L 256.22 746.28 L 256.65 745.20 L 257.08 748.03 L 257.52 757.85 L 257.95 757.00 L 258.38 754.80 L 258.81 763.04 L 259.24 749.95 L 259.68 749.23 L 260.11 749.04 L 260.54 766.41 L 260.97 735.80 L 261.40 753.34 L 261.84 754.14 L 262.27 750.83 L 262.70 767.48 L 263.13 758.59 L 263.56 755.74 L 264 743.83 L 264.43 754.67 L 264.86 748.87 L 265.29 752.40 L 265.72 753.79 L 266.16 748.76 L 266.59 756.67 L 267.02 763.58 L 267.45 758.76 L 267.88 752.35 L 268.32 736.23 L 268.75 758.37 L 269.18 758.15 L 269.61 748.63 L 270.04 746.19 L 270.48 754.84 L 270.91 744.36 L 271.34 755.92 L 271.77 742.38 L 272.20 743.59 L 272.64 750.36 L 273.07 745.27 L 273.50 753.11 L 273.93 770.71 L 274.36 760.69 L 274.8 766.56 L 275.23 764.77 L 275.66 775.68 L 276.09 766.83 L 276.52 763.39 L 276.96 757.96 L 277.39 751.25 L 277.82 755.72 L 278.25 754.92 L 278.68 768.85 L 279.12 763.85 L 279.55 745.38 L 279.98 761.60 L 280.41 757.01 L 280.84 752.40 L 281.28 758.91 L 281.71 761.58 L 282.14 751.35 L 282.57 753.62 L 283.00 756.84 L 283.44 747.79 L 283.87 756.26 L 284.30 753.72 L 284.73 748.61 L 285.16 746.83 L 285.6 755.04 L 286.03 758.93 L 286.46 754.44 L 286.89 745.20 L 287.32 757.35 L 287.76 753.12 L 288.19 756.72 L 288.62 761.71 L 289.05 746.90 L 289.48 753.81 L 289.92 751.62 L 290.35 750.93 L 290.78 774.23 L 291.21 767.54 L 291.64 748.25 L 292.08 765.95 L 292.51 759.27 L 292.94 772.68 L 293.37 764.74 L 293.80 762.64 L 294.24 764.66 L 294.67 765.97 L 295.10 762.72 L 295.53 760.31 L 295.96 760.54 L 296.4 765.25 L 296.83 752.76 L 297.26 761.43 L 297.69 760.75 L 298.12 758.26 L 298.56 767.82 L 298.99 752.67 L 299.42 759.80 L 299.85 756.07 L 300.28 766.49 L 300.72 758.49 L 301.15 762.04 L 301.58 764.23 L 302.01 748.73 L 302.44 763.87 L 302.88 754.49 L 303.31 758.09 L 303.74 759.11 L 304.17 766.07 L 304.60 767.09 L 305.04 774.16 L 305.47 772.00 L 305.90 760.51 L 306.33 766.75 L 306.76 779.22 L 307.2 780.48 L 307.63 780.83 L 308.06 765.21 L 308.49 769.02 L 308.92 766.16 L 309.36 771.47 L 309.79 758.35 L 310.22 742.21 L 310.65 757.04 L 311.08 768.98 L 311.52 762.83 L 311.95 745.06 L 312.38 762.71 L 312.81 749.71 L 313.24 779.79 L 313.68 766.95 L 314.11 756.82 L 314.54 771.97 L 314.97 759.54 L 315.40 768.88 L 315.84 763.65 L 316.27 753.29 L 316.70 765.85 L 317.13 749.56 L 317.56 768.48 L 318 757.75 L 318.43 748.74 L 318.86 742.26 L 319.29 766.73 L 319.72 764.93 L 320.16 744.67 L 320.59 765.15 L 321.02 753.69 L 321.45 750.07 L 321.88 750.20 L 322.32 748.02 L 322.75 759.58 L 323.18 749.57 L 323.61 734.51 L 324.04 762.83 L 324.48 753.73 L 324.91 739.02 L 325.34 744.38 L 325.77 740.42 L 326.20 747.81 L 326.64 750.66 L 327.07 749.61 L 327.50 743.27 L 327.93 741.56 L 328.36 753.69 L 328.8 746.03 L 329.23 763.27 L 329.66 739.50 L 330.09 751.03 L 330.52 744.99 L 330.96 738.61 L 331.39 754.64 L 331.82 745.42 L 332.25 738.08 L 332.68 742.91 L 333.12 753.51 L 333.55 737.08 L 333.98 756.91 L 334.41 751.84 L 334.84 744.64 L 335.28 756.76 L 335.71 759.53 L 336.14 750.77 L 336.57 747.40 L 337.00 759.79 L 337.44 757.09 L 337.87 738.95 L 338.30 744.29 L 338.73 744.16 L 339.16 742.58 L 339.6 734.26 L 340.03 751.95 L 340.46 745.49 L 340.89 745.23 L 341.32 754.72 L 341.76 739.55 L 342.19 743.10 L 342.62 745.30 L 343.05 739.64 L 343.48 741.75 L 343.92 748.10 L 344.35 741.97 L 344.78 751.96 L 345.21 736.06 L 345.64 743.26 L 346.08 730.89 L 346.51 740.78 L 346.94 736.24 L 347.37 751.55 L 347.80 746.54 L 348.24 744.18 L 348.67 753.34 L 349.10 749.52 L 349.53 743.34 L 349.96 732.19 L 350.4 725.80 L 350.83 735.20 L 351.26 731.76 L 351.69 728.78 L 352.12 730.77 L 352.56 722.15 L 352.99 739.78 L 353.42 725.30 L 353.85 725.39 L 354.28 727.93 L 354.72 713.20 L 355.15 719.16 L 355.58 716.73 L 356.01 704.96 L 356.44 701.44 L 356.88 695.76 L 357.31 696 L 357.74 710.35 L 358.17 707.06 L 358.60 699.24 L 359.04 694.99 L 359.47 712.69 L 359.90 724.36 L 360.33 698.05 L 360.76 705.40 L 361.2 692.84 L 361.63 718.38 L 362.06 712.80 L 362.49 734.26 L 362.92 709.99 L 363.36 707.06 L 363.79 704.61 L 364.22 720.29 L 364.65 696.42 L 365.08 720.06 L 365.52 715.75 L 365.95 709.11 L 366.38 705.94 L 366.81 726.04 L 367.24 734.90 L 367.68 712.54 L 368.11 722.81 L 368.54 735.55 L 368.97 711.90 L 369.40 716.11 L 369.84 706.68 L 370.27 718.40 L 370.70 719.80 L 371.13 717.04 L 371.56 714.65 L 372 707.77 L 372.43 711.44 L 372.86 715.78 L 373.29 727.13 L 373.72 716.88 L 374.16 712.97 L 374.59 719.35 L 375.02 716.49 L 375.45 708.01 L 375.88 706.60 L 376.32 710.84 L 376.75 707.31 L 377.18 691.27 L 377.61 685.38 L 378.04 683.45 L 378.48 678.47 L 378.91 668.87 L 379.34 679.73 L 379.77 668.30 L 380.20 670.56 L 380.64 676.66 L 381.07 682.50 L 381.50 663.40 L 381.93 681.6 L 382.36 661.38 L 382.8 670.60 L 383.23 676.16 L 383.66 685.53 L 384.09 685.95 L 384.52 678.67 L 384.96 693.12 L 385.39 684.73 L 385.82 694.46 L 386.25 708.13 L 386.68 684.19 L 387.12 658.89 L 387.55 678.96 L 387.98 673.59 L 388.41 684.85 L 388.84 685.46 L 389.28 674.00 L 389.71 675.66 L 390.14 685.00 L 390.57 686.93 L 391.00 666.26 L 391.44 700.45 L 391.87 693.15 L 392.30 693.99 L 392.73 698.03 L 393.16 686.16 L 393.6 696.52 L 394.03 708.29 L 394.46 709.10 L 394.89 702.51 L 395.32 694.56 L 395.76 688.67 L 396.19 711.34 L 396.62 702.87 L 397.05 692.88 L 397.48 674.33 L 397.92 687.63 L 398.35 676.23 L 398.78 706.85 L 399.21 694.84 L 399.64 684.28 L 400.08 678.93 L 400.51 694.41 L 400.94 673.98 L 401.37 647.62 L 401.80 671.18 L 402.24 640.89 L 402.67 651.26 L 403.10 666.27 L 403.53 669.87 L 403.96 678.21 L 404.4 649.01 L 404.83 646.82 L 405.26 666.72 L 405.69 673.38 L 406.12 660.48 L 406.56 644.39 L 406.99 687.14 L 407.42 675.15 L 407.85 690.94 L 408.28 683.88 L 408.72 692.19 L 409.15 687.01 L 409.58 696.07 L 410.01 706.18 L 410.44 706.63 L 410.88 698.40 L 411.31 710.31 L 411.74 696.83 L 412.17 688.58 L 412.60 707.75 L 413.04 716.38 L 413.47 709.57 L 413.90 686.16 L 414.33 708.57 L 414.76 706.22 L 415.2 693.79 L 415.63 671.90 L 416.06 710.25 L 416.49 708.33 L 416.92 703.62 L 417.36 678.89 L 417.79 681.08 L 418.22 707.88 L 418.65 705.33 L 419.08 701.82 L 419.52 693.69 L 419.95 699.88 L 420.38 676.68 L 420.81 680.09 L 421.24 681.59 L 421.68 680.32 L 422.11 660.85 L 422.54 662.4 L 422.97 680.92 L 423.40 679.94 L 423.84 700.98 L 424.27 675.37 L 424.70 696.64 L 425.13 710.79 L 425.56 714.04 L 426 677.70 L 426.43 712.87 L 426.86 715.53 L 427.29 717.61 L 427.72 680.43 L 428.16 696.02 L 428.59 701.34 L 429.02 697.31 L 429.45 713.19 L 429.88 692.39 L 430.32 709.10 L 430.75 700.39 L 431.18 684.45 L 431.61 689.33 L 432.04 702.74 L 432.48 711.71 L 432.91 704.68 L 433.34 699.48 L 433.77 729.6 L 434.20 709.50 L 434.64 698.93 L 435.07 707.01 L 435.50 726.26 L 435.93 709.65 L 436.36 702.47 L 436.8 712.83 L 437.23 725.13 L 437.66 707.91 L 438.09 701.53 L 438.52 698.80 L 438.96 715.82 L 439.39 700.13 L 439.82 692.25 L 440.25 696.35 L 440.68 687.15 L 441.12 676.65 L 441.55 671.64 L 441.98 685.16 L 442.41 660.48 L 442.84 681.59 L 443.28 680.91 L 443.71 691.51 L 444.14 683.30 L 444.57 698.78 L 445.00 700.52 L 445.44 709.96 L 445.87 705.34 L 446.30 713.05 L 446.73 711.05 L 447.16 711.59 L 447.6 712.89 L 448.03 709.02 L 448.46 708.59 L 448.89 688.20 L 449.32 724.75 L 449.76 706.20 L 450.19 711.88 L 450.62 707.64 L 451.05 727.96 L 451.48 711.93 L 451.92 724.80 L 452.35 727.98 L 452.78 728.43 L 453.21 708.62 L 453.64 706.91 L 454.08 703.77 L 454.51 697.45 L 454.94 696.87 L 455.37 687.10 L 455.80 672 L 456.24 698.07 L 456.67 683.73 L 457.10 702.27 L 457.53 698.22 L 457.96 698.04 L 458.4 717.21 L 458.83 718.61 L 459.26 726.20 L 459.69 723.19 L 460.12 732.03 L 460.56 732.32 L 460.99 727.86 L 461.42 700.82 L 461.85 721.44 L 462.28 718.05 L 462.72 690.72 L 463.15 727.45 L 463.58 696 L 464.01 712.05 L 464.44 729.85 L 464.88 703.67 L 465.31 715.70 L 465.74 710.96 L 466.17 716.52 L 466.60 710.83 L 467.04 728.39 L 467.47 726.78 L 467.90 733.26 L 468.33 729.67 L 468.76 739.77 L 469.2 735.13 L 469.63 739.98 L 470.06 747.30 L 470.49 738.04 L 470.92 745.57 L 471.36 739.10 L 471.79 741.99 L 472.22 732.46 L 472.65 744.26 L 473.08 748.07 L 473.52 736.10 L 473.95 743.59 L 474.38 740.05 L 474.81 726.41 L 475.24 738.95 L 475.68 746.91 L 476.11 730.44 L 476.54 718.34 L 476.97 734.98 L 477.40 726.87 L 477.84 748.59 L 478.27 731.30 L 478.70 731.61 L 479.13 726.54 L 479.56 735.07 L 480 729.17 L 480.43 727.74 L 480.86 736.87 L 481.29 732.12 L 481.72 752.49 L 482.16 731.73 L 482.59 742.05 L 483.02 736.79 L 483.45 730.40 L 483.88 756.60 L 484.32 722.53 L 484.75 752.91 L 485.18 726.74 L 485.61 739.13 L 486.04 757.50 L 486.48 719.13 L 486.91 725.94 L 487.34 749.50 L 487.77 740.16 L 488.20 734.58 L 488.64 739.56 L 489.07 732.19 L 489.50 742.04 L 489.93 754.30 L 490.36 738.84 L 490.8 743.85 L 491.23 753.44 L 491.66 760.57 L 492.09 739.26 L 492.52 747.13 L 492.96 740.28 L 493.39 739.94 L 493.82 742.20 L 494.25 740.42 L 494.68 731.49 L 495.12 729.44 L 495.55 739.86 L 495.98 747.04 L 496.41 756.04 L 496.84 741.86 L 497.28 745.02 L 497.71 752.07 L 498.14 753.11 L 498.57 746.71 L 499.00 747.94 L 499.44 764.38 L 499.87 747.68 L 500.30 747.56 L 500.73 739.61 L 501.16 757.01 L 501.6 752.44 L 502.03 770.57 L 502.46 753.67 L 502.89 763.75 L 503.32 765.83 L 503.76 772.92 L 504.19 749.14 L 504.62 774.57 L 505.05 761.57 L 505.48 760.68 L 505.92 758.78 L 506.35 757.67 L 506.78 757.48 L 507.21 739.16 L 507.64 763.15 L 508.08 758.22 L 508.51 748.42 L 508.94 755.53 L 509.37 775.86 L 509.80 758.90 L 510.24 752.31 L 510.67 771.04 L 511.10 749.42 L 511.53 755.36 L 511.96 752.02 L 512.4 754.78 L 512.83 763.11 L 513.26 761.57 L 513.69 749.91 L 514.12 755.17 L 514.56 757.21 L 514.99 753.34 L 515.42 757.41 L 515.85 752.79 L 516.28 753.73 L 516.72 760.84 L 517.15 752.84 L 517.58 764.60 L 518.01 759.96 L 518.44 754.35 L 518.88 756.93 L 519.31 758.22 L 519.74 761.11 L 520.17 763.79 L 520.60 761.63 L 521.04 756.59 L 521.47 775.85 L 521.90 771.92 L 522.33 765.70 L 522.76 773.07 L 523.2 768.28 L 523.63 763.84 L 524.06 767.18 L 524.49 789.50 L 524.92 776.00 L 525.36 777.08 L 525.79 765.38 L 526.22 773.94 L 526.65 788.26 L 527.08 772.55 L 527.52 778.04 L 527.95 779.34 L 528.38 773.56 L 528.81 780.84 L 529.24 768.32 L 529.68 769.56 L 530.11 758.75 L 530.54 785.90 L 530.97 764.84 L 531.40 762.85 L 531.84 773.80 L 532.27 757.73 L 532.70 762.25 L 533.13 756.11 L 533.56 763.74 L 534 760.98 L 534.43 769.83 L 534.86 764.89 L 535.29 761.63 L 535.72 765.03 L 536.16 767.31 L 536.59 764.65 L 537.02 777.92 L 537.45 776.28 L 537.88 772.16 L 538.32 760.82 L 538.75 775.75 L 539.18 760.13 L 539.61 772.71 L 540.04 771.35 L 540.48 765.68 L 540.91 763.52 L 541.34 764.68 L 541.77 788.57 L 542.20 768.46 L 542.64 768.88 L 543.07 778.77 L 543.50 773.68 L 543.93 778.65 L 544.36 758.30 L 544.8 759.06 L 545.23 796.88 L 545.66 767.63 L 546.09 765.56 L 546.52 769.72 L 546.96 777.31 L 547.39 759.13 L 547.82 772.43 L 548.25 770.38 L 548.68 776.98 L 549.12 773.16 L 549.55 767.51 L 549.98 764.93 L 550.41 751.97 L 550.84 780.36 L 551.28 760.69 L 551.71 769.75 L 552.14 786.44 L 552.57 770.42 L 553.00 778.75 L 553.44 772.84 L 553.87 780.31 L 554.30 775.71 L 554.73 772.15 L 555.16 787.02 L 555.6 775.17 L 556.03 767.37 L 556.46 775.72 L 556.89 783.13 L 557.32 770.71 L 557.76 786.55 L 558.19 787.24 L 558.62 799.36 L 559.05 778.13 L 559.48 790.26 L 559.92 772.64 L 560.35 784.48 L 560.78 790.23 L 561.21 794.07 L 561.64 791.31 L 562.08 791.87 L 562.51 788.09 L 562.94 789.63 L 563.37 795.60 L 563.80 797.11 L 564.24 796.93 L 564.67 798.88 L 565.10 799.28 L 565.53 772.38 L 565.96 782.13 L 566.4 784.21 L 566.83 779.39 L 567.26 793.56 L 567.69 791.08 L 568.12 784.15 L 568.56 786.75 L 568.99 797.29 L 569.42 784.30 L 569.85 785.59 L 570.28 796.85 L 570.72 793.73 L 571.15 802.23 L 571.58 793.50 L 572.01 796.83 L 572.44 785.84 L 572.88 782.44 L 573.31 790.31 L 573.74 767.67 L 574.17 793.66 L 574.60 798.36 L 575.04 790.29 L 575.47 787.34 L 575.90 798.18 L 576.33 788.34 L 576.76 796.87 L 577.2 806.98 L 577.63 794.20 L 578.06 795.59 L 578.49 791.17 L 578.92 788.35 L 579.36 787.79 L 579.79 785.39 L 580.22 793.94 L 580.65 771.89 L 581.08 784.00 L 581.52 792.75 L 581.95 781.61 L 582.38 788.92 L 582.81 785.29 L 583.24 795.68 L 583.68 800.17 L 584.11 806.01 L 584.54 799.06 L 584.97 789.76 L 585.40 798.57 L 585.84 801.73 L 586.27 809.14 L 586.70 779.16 L 587.13 800.17 L 587.56 780.94 L 588 801.64 L 588.43 798.31 L 588.86 797.68 L 589.29 799.90 L 589.72 794.73 L 590.16 785.21 L 590.59 793.24 L 591.02 800.14 L 591.45 788.76 L 591.88 790.12 L 592.32 779.81 L 592.75 800.62 L 593.18 786.87 L 593.61 785.33 L 594.04 788.28 L 594.48 785.02 L 594.91 790.39 L 595.34 803.49 L 595.77 799.29 L 596.20 804.72 L 596.64 805.29 L 597.07 785.01 L 597.50 796.94 L 597.93 805.85 L 598.36 812.89 L 598.8 781.40 L 599.23 781.50 L 599.66 797.78 L 600.09 790.93 L 600.52 785.22 L 600.96 796.81 " clip-path="url(#p0170dd7988)" style="fill: none; stroke-dasharray: 5.92,2.56; stroke-dashoffset: 0; stroke: #ff0000; stroke-width: 1.6"/> </g> <g id="patch_32"> <path d="M 68.44 821.08 L 68.44 587.04 " style="fill: none; stroke: #5a5a5a; stroke-width: 1.4; stroke-linejoin: miter; stroke-linecap: square"/> </g> <g id="patch_33"> <path d="M 627.07 821.08 L 627.07 587.04 " style="fill: none; stroke: #5a5a5a; stroke-width: 1.4; stroke-linejoin: miter; stroke-linecap: square"/> </g> <g id="patch_34"> <path d="M 68.44 821.08 L 627.07 821.08 " style="fill: none; stroke: #5a5a5a; stroke-width: 1.4; stroke-linejoin: miter; stroke-linecap: square"/> </g> <g id="patch_35"> <path d="M 68.44 587.04 L 627.07 587.04 " style="fill: none; stroke: #5a5a5a; stroke-width: 1.4; stroke-linejoin: miter; stroke-linecap: square"/> </g> </g> </g> <defs> <clipPath id="p2609fcac6d"> <rect x="68.44" y="24.57" width="558.62" height="234.04"/> </clipPath> <clipPath id="pdae10b893c"> <rect x="68.44" y="24.57" width="558.62" height="234.04"/> </clipPath> <clipPath id="p14d8af0314"> <rect x="68.44" y="305.37" width="558.62" height="234.91"/> </clipPath> <clipPath id="pb3ce53a981"> <rect x="68.44" y="305.37" width="558.62" height="234.91"/> </clipPath> <clipPath id="pee95d5d99b"> <rect x="68.44" y="587.04" width="558.62" height="234.04"/> </clipPath> <clipPath id="p0170dd7988"> <rect x="68.44" y="587.04" width="558.62" height="234.04"/> </clipPath> </defs> </svg> 
</body></html>
